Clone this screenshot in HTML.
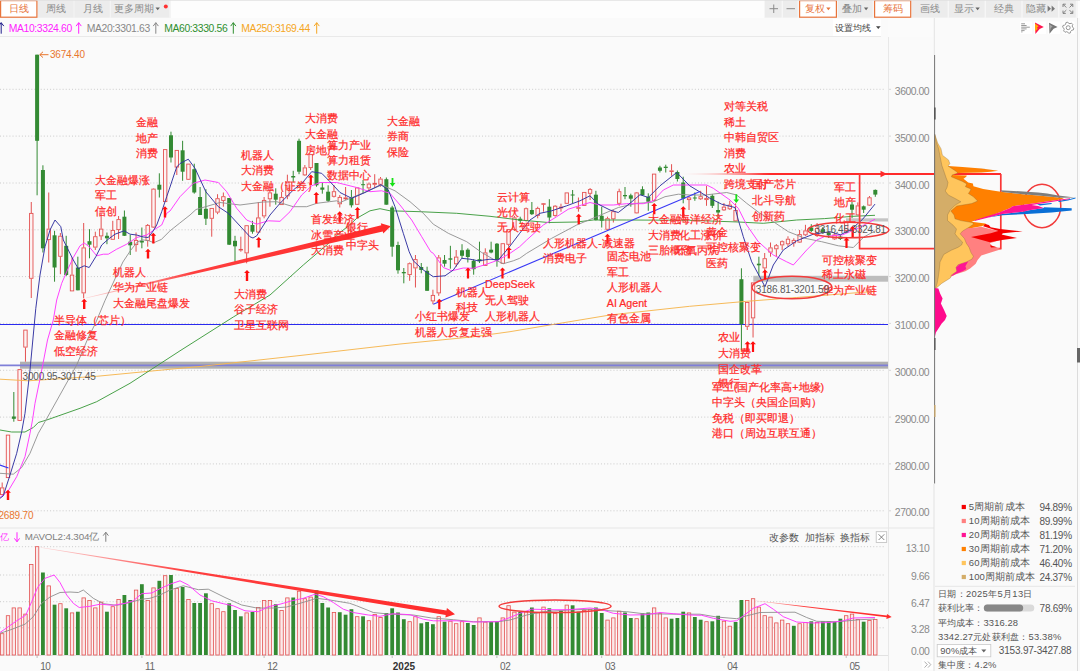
<!DOCTYPE html>
<html><head><meta charset="utf-8"><title>K线图</title>
<style>
html,body{margin:0;padding:0;background:#fcfcfc;}
body{width:1080px;height:671px;overflow:hidden;font-family:"Liberation Sans",sans-serif;}
svg{display:block;font-family:"Liberation Sans",sans-serif;}
</style></head><body>
<svg width="1080" height="671" viewBox="0 0 1080 671">
<rect x="0" y="0" width="1080" height="671" fill="#fbfbfb"/>
<rect x="0" y="18" width="888" height="653" fill="#fafafa"/>
<rect x="888" y="37" width="46.5" height="634" fill="#fafafa"/>
<rect x="934.5" y="18" width="145.5" height="653" fill="#fafafa"/>
<rect x="0" y="0" width="1080" height="18" fill="#fdfdfd"/>
<line x1="0" y1="510.8" x2="885" y2="510.8" stroke="#cbcbcb" stroke-width="1" stroke-dasharray="1 2.13"/>
<line x1="888" y1="510.8" x2="891" y2="510.8" stroke="#d8d8d8" stroke-width="1"/>
<line x1="0" y1="463.9" x2="885" y2="463.9" stroke="#cbcbcb" stroke-width="1" stroke-dasharray="1 2.13"/>
<line x1="888" y1="463.9" x2="891" y2="463.9" stroke="#d8d8d8" stroke-width="1"/>
<line x1="0" y1="417.1" x2="885" y2="417.1" stroke="#cbcbcb" stroke-width="1" stroke-dasharray="1 2.13"/>
<line x1="888" y1="417.1" x2="891" y2="417.1" stroke="#d8d8d8" stroke-width="1"/>
<line x1="0" y1="370.3" x2="885" y2="370.3" stroke="#cbcbcb" stroke-width="1" stroke-dasharray="1 2.13"/>
<line x1="888" y1="370.3" x2="891" y2="370.3" stroke="#d8d8d8" stroke-width="1"/>
<line x1="0" y1="323.4" x2="885" y2="323.4" stroke="#cbcbcb" stroke-width="1" stroke-dasharray="1 2.13"/>
<line x1="888" y1="323.4" x2="891" y2="323.4" stroke="#d8d8d8" stroke-width="1"/>
<line x1="0" y1="276.6" x2="885" y2="276.6" stroke="#cbcbcb" stroke-width="1" stroke-dasharray="1 2.13"/>
<line x1="888" y1="276.6" x2="891" y2="276.6" stroke="#d8d8d8" stroke-width="1"/>
<line x1="0" y1="229.8" x2="885" y2="229.8" stroke="#cbcbcb" stroke-width="1" stroke-dasharray="1 2.13"/>
<line x1="888" y1="229.8" x2="891" y2="229.8" stroke="#d8d8d8" stroke-width="1"/>
<line x1="0" y1="183.0" x2="885" y2="183.0" stroke="#cbcbcb" stroke-width="1" stroke-dasharray="1 2.13"/>
<line x1="888" y1="183.0" x2="891" y2="183.0" stroke="#d8d8d8" stroke-width="1"/>
<line x1="0" y1="136.1" x2="885" y2="136.1" stroke="#cbcbcb" stroke-width="1" stroke-dasharray="1 2.13"/>
<line x1="888" y1="136.1" x2="891" y2="136.1" stroke="#d8d8d8" stroke-width="1"/>
<line x1="0" y1="89.3" x2="885" y2="89.3" stroke="#cbcbcb" stroke-width="1" stroke-dasharray="1 2.13"/>
<line x1="888" y1="89.3" x2="891" y2="89.3" stroke="#d8d8d8" stroke-width="1"/>
<line x1="0" y1="546.7" x2="885" y2="546.7" stroke="#cbcbcb" stroke-width="1" stroke-dasharray="1 2.13"/>
<line x1="0" y1="575" x2="885" y2="575" stroke="#cbcbcb" stroke-width="1" stroke-dasharray="1 2.13"/>
<line x1="0" y1="601.7" x2="885" y2="601.7" stroke="#cbcbcb" stroke-width="1" stroke-dasharray="1 2.13"/>
<line x1="0" y1="627.8" x2="885" y2="627.8" stroke="#cbcbcb" stroke-width="1" stroke-dasharray="1 2.13"/>
<line x1="0" y1="36.5" x2="881" y2="36.5" stroke="#e9e9e9"/>
<line x1="888.5" y1="37" x2="888.5" y2="671" stroke="#e8e8e8"/>
<line x1="0" y1="528" x2="934" y2="528" stroke="#e6e6e6"/>
<line x1="0" y1="655.5" x2="888" y2="655.5" stroke="#e2e2e2"/>
<line x1="934" y1="484" x2="934" y2="671" stroke="#e2e2e2"/>
<line x1="1077.5" y1="18" x2="1077.5" y2="671" stroke="#dcdcdc"/>
<rect x="1077" y="348" width="3" height="14.5" fill="#666"/>
<line x1="935" y1="586.3" x2="1075" y2="586.3" stroke="#e6e6e6"/>
<rect x="20" y="361.7" width="868" height="7" fill="#b0b0b0"/>
<line x1="0" y1="365.4" x2="888" y2="365.4" stroke="#7f7fd8" stroke-width="1.6"/>
<rect x="753.3" y="275.8" width="134.7" height="5.9" fill="#bdbdbd"/>
<rect x="846" y="218.3" width="42" height="3.2" fill="#c4c4c4"/>
<line x1="0" y1="324.5" x2="888" y2="324.5" stroke="#2a2af0" stroke-width="1.05"/>
<line x1="2.18" y1="482.5" x2="2.18" y2="487.5" stroke="#e35151" stroke-width="1"/>
<rect x="0.48" y="487.9" width="3.4" height="6.7" fill="#fdf1f1" fill-opacity="0.7" stroke="#e35151" stroke-width="0.9"/>
<rect x="6.30" y="435.1" width="3.4" height="42.5" fill="#fdf1f1" fill-opacity="0.7" stroke="#e35151" stroke-width="0.9"/>
<line x1="13.82" y1="392.0" x2="13.82" y2="421.7" stroke="#338a33" stroke-width="1"/>
<rect x="11.82" y="416.5" width="4" height="2.3" fill="#338a33"/>
<line x1="19.64" y1="420.8" x2="19.64" y2="421.0" stroke="#e35151" stroke-width="1"/>
<rect x="17.94" y="369.6" width="3.4" height="50.8" fill="#fdf1f1" fill-opacity="0.7" stroke="#e35151" stroke-width="0.9"/>
<line x1="25.46" y1="347.5" x2="25.46" y2="361.7" stroke="#e35151" stroke-width="1"/>
<rect x="23.76" y="330.1" width="3.4" height="17.0" fill="#fdf1f1" fill-opacity="0.7" stroke="#e35151" stroke-width="0.9"/>
<line x1="31.28" y1="202.0" x2="31.28" y2="213.0" stroke="#e35151" stroke-width="1"/>
<line x1="31.28" y1="278.7" x2="31.28" y2="298.0" stroke="#e35151" stroke-width="1"/>
<rect x="29.58" y="213.4" width="3.4" height="64.9" fill="#fdf1f1" fill-opacity="0.7" stroke="#e35151" stroke-width="0.9"/>
<line x1="37.10" y1="54.7" x2="37.10" y2="195.3" stroke="#338a33" stroke-width="1"/>
<rect x="35.10" y="54.7" width="4" height="86.1" fill="#338a33"/>
<line x1="42.92" y1="165.3" x2="42.92" y2="252.5" stroke="#338a33" stroke-width="1"/>
<rect x="40.92" y="170.0" width="4" height="78.3" fill="#338a33"/>
<line x1="48.74" y1="192.5" x2="48.74" y2="228.7" stroke="#e35151" stroke-width="1"/>
<line x1="48.74" y1="240.0" x2="48.74" y2="262.5" stroke="#e35151" stroke-width="1"/>
<rect x="47.04" y="229.1" width="3.4" height="10.5" fill="#fdf1f1" fill-opacity="0.7" stroke="#e35151" stroke-width="0.9"/>
<line x1="54.56" y1="230.8" x2="54.56" y2="281.7" stroke="#338a33" stroke-width="1"/>
<rect x="52.56" y="235.3" width="4" height="32.2" fill="#338a33"/>
<line x1="60.38" y1="233.0" x2="60.38" y2="235.8" stroke="#e35151" stroke-width="1"/>
<line x1="60.38" y1="256.7" x2="60.38" y2="274.2" stroke="#e35151" stroke-width="1"/>
<rect x="58.68" y="236.2" width="3.4" height="20.1" fill="#fdf1f1" fill-opacity="0.7" stroke="#e35151" stroke-width="0.9"/>
<line x1="66.20" y1="235.8" x2="66.20" y2="276.0" stroke="#338a33" stroke-width="1"/>
<rect x="64.20" y="245.8" width="4" height="29.2" fill="#338a33"/>
<line x1="72.02" y1="257.5" x2="72.02" y2="274.7" stroke="#e35151" stroke-width="1"/>
<rect x="70.32" y="275.1" width="3.4" height="15.8" fill="#fdf1f1" fill-opacity="0.7" stroke="#e35151" stroke-width="0.9"/>
<line x1="77.85" y1="256.7" x2="77.85" y2="290.3" stroke="#338a33" stroke-width="1"/>
<rect x="75.85" y="267.5" width="4" height="22.8" fill="#338a33"/>
<line x1="83.67" y1="223.0" x2="83.67" y2="247.5" stroke="#e35151" stroke-width="1"/>
<line x1="83.67" y1="293.3" x2="83.67" y2="298.3" stroke="#e35151" stroke-width="1"/>
<rect x="81.97" y="247.9" width="3.4" height="45.0" fill="#fdf1f1" fill-opacity="0.7" stroke="#e35151" stroke-width="0.9"/>
<line x1="89.49" y1="229.2" x2="89.49" y2="258.3" stroke="#338a33" stroke-width="1"/>
<rect x="87.49" y="241.2" width="4" height="3.5" fill="#338a33"/>
<line x1="95.31" y1="231.7" x2="95.31" y2="236.3" stroke="#e35151" stroke-width="1"/>
<line x1="95.31" y1="247.5" x2="95.31" y2="250.0" stroke="#e35151" stroke-width="1"/>
<rect x="93.61" y="236.7" width="3.4" height="10.4" fill="#fdf1f1" fill-opacity="0.7" stroke="#e35151" stroke-width="0.9"/>
<line x1="101.13" y1="213.3" x2="101.13" y2="228.7" stroke="#e35151" stroke-width="1"/>
<line x1="101.13" y1="236.3" x2="101.13" y2="240.0" stroke="#e35151" stroke-width="1"/>
<rect x="99.43" y="229.1" width="3.4" height="6.8" fill="#fdf1f1" fill-opacity="0.7" stroke="#e35151" stroke-width="0.9"/>
<line x1="106.95" y1="232.5" x2="106.95" y2="244.2" stroke="#338a33" stroke-width="1"/>
<rect x="104.95" y="235.8" width="4" height="2.5" fill="#338a33"/>
<line x1="112.77" y1="220.8" x2="112.77" y2="230.0" stroke="#e35151" stroke-width="1"/>
<rect x="111.07" y="230.4" width="3.4" height="8.9" fill="#fdf1f1" fill-opacity="0.7" stroke="#e35151" stroke-width="0.9"/>
<line x1="118.59" y1="216.0" x2="118.59" y2="219.2" stroke="#e35151" stroke-width="1"/>
<line x1="118.59" y1="230.0" x2="118.59" y2="239.0" stroke="#e35151" stroke-width="1"/>
<rect x="116.89" y="219.6" width="3.4" height="10.0" fill="#fdf1f1" fill-opacity="0.7" stroke="#e35151" stroke-width="0.9"/>
<line x1="124.41" y1="210.5" x2="124.41" y2="236.0" stroke="#338a33" stroke-width="1"/>
<rect x="122.41" y="216.7" width="4" height="19.1" fill="#338a33"/>
<line x1="130.23" y1="235.0" x2="130.23" y2="255.0" stroke="#338a33" stroke-width="1"/>
<rect x="128.23" y="241.7" width="4" height="3.6" fill="#338a33"/>
<line x1="136.05" y1="232.5" x2="136.05" y2="240.0" stroke="#e35151" stroke-width="1"/>
<line x1="136.05" y1="245.0" x2="136.05" y2="251.7" stroke="#e35151" stroke-width="1"/>
<rect x="134.35" y="240.4" width="3.4" height="4.2" fill="#fdf1f1" fill-opacity="0.7" stroke="#e35151" stroke-width="0.9"/>
<line x1="141.87" y1="227.5" x2="141.87" y2="248.3" stroke="#338a33" stroke-width="1"/>
<rect x="139.87" y="240.8" width="4" height="1.7" fill="#338a33"/>
<line x1="147.70" y1="224.0" x2="147.70" y2="225.0" stroke="#e35151" stroke-width="1"/>
<line x1="147.70" y1="240.8" x2="147.70" y2="246.7" stroke="#e35151" stroke-width="1"/>
<rect x="146.00" y="225.4" width="3.4" height="15.0" fill="#fdf1f1" fill-opacity="0.7" stroke="#e35151" stroke-width="0.9"/>
<line x1="153.52" y1="188.3" x2="153.52" y2="188.7" stroke="#e35151" stroke-width="1"/>
<line x1="153.52" y1="227.5" x2="153.52" y2="228.0" stroke="#e35151" stroke-width="1"/>
<rect x="151.82" y="189.1" width="3.4" height="38.0" fill="#fdf1f1" fill-opacity="0.7" stroke="#e35151" stroke-width="0.9"/>
<line x1="159.34" y1="173.3" x2="159.34" y2="197.5" stroke="#338a33" stroke-width="1"/>
<rect x="157.34" y="184.7" width="4" height="5.0" fill="#338a33"/>
<rect x="163.46" y="149.6" width="3.4" height="52.0" fill="#fdf1f1" fill-opacity="0.7" stroke="#e35151" stroke-width="0.9"/>
<line x1="170.98" y1="131.7" x2="170.98" y2="162.5" stroke="#338a33" stroke-width="1"/>
<rect x="168.98" y="135.3" width="4" height="22.2" fill="#338a33"/>
<line x1="176.80" y1="167.5" x2="176.80" y2="175.0" stroke="#e35151" stroke-width="1"/>
<rect x="175.10" y="150.4" width="3.4" height="16.7" fill="#fdf1f1" fill-opacity="0.7" stroke="#e35151" stroke-width="0.9"/>
<line x1="182.62" y1="140.8" x2="182.62" y2="180.8" stroke="#338a33" stroke-width="1"/>
<rect x="180.62" y="150.3" width="4" height="21.4" fill="#338a33"/>
<line x1="188.44" y1="179.7" x2="188.44" y2="180.0" stroke="#e35151" stroke-width="1"/>
<rect x="186.74" y="164.1" width="3.4" height="15.2" fill="#fdf1f1" fill-opacity="0.7" stroke="#e35151" stroke-width="0.9"/>
<line x1="194.26" y1="163.7" x2="194.26" y2="193.7" stroke="#338a33" stroke-width="1"/>
<rect x="192.26" y="169.2" width="4" height="23.3" fill="#338a33"/>
<line x1="200.08" y1="187.0" x2="200.08" y2="215.0" stroke="#338a33" stroke-width="1"/>
<rect x="198.08" y="197.0" width="4" height="18.0" fill="#338a33"/>
<line x1="205.90" y1="189.2" x2="205.90" y2="225.0" stroke="#338a33" stroke-width="1"/>
<rect x="203.90" y="208.8" width="4" height="9.9" fill="#338a33"/>
<line x1="211.72" y1="218.7" x2="211.72" y2="236.7" stroke="#e35151" stroke-width="1"/>
<rect x="210.02" y="208.4" width="3.4" height="9.9" fill="#fdf1f1" fill-opacity="0.7" stroke="#e35151" stroke-width="0.9"/>
<line x1="217.54" y1="194.2" x2="217.54" y2="198.3" stroke="#e35151" stroke-width="1"/>
<line x1="217.54" y1="212.5" x2="217.54" y2="214.2" stroke="#e35151" stroke-width="1"/>
<rect x="215.84" y="198.7" width="3.4" height="13.4" fill="#fdf1f1" fill-opacity="0.7" stroke="#e35151" stroke-width="0.9"/>
<line x1="223.37" y1="192.5" x2="223.37" y2="196.3" stroke="#e35151" stroke-width="1"/>
<line x1="223.37" y1="200.8" x2="223.37" y2="206.7" stroke="#e35151" stroke-width="1"/>
<rect x="221.67" y="196.7" width="3.4" height="3.7" fill="#fdf1f1" fill-opacity="0.7" stroke="#e35151" stroke-width="0.9"/>
<line x1="229.19" y1="198.0" x2="229.19" y2="245.0" stroke="#338a33" stroke-width="1"/>
<rect x="227.19" y="198.0" width="4" height="46.7" fill="#338a33"/>
<line x1="235.01" y1="235.8" x2="235.01" y2="261.7" stroke="#338a33" stroke-width="1"/>
<rect x="233.01" y="240.8" width="4" height="5.5" fill="#338a33"/>
<line x1="240.83" y1="236.7" x2="240.83" y2="249.0" stroke="#e35151" stroke-width="1"/>
<line x1="240.83" y1="250.3" x2="240.83" y2="251.7" stroke="#e35151" stroke-width="1"/>
<rect x="239.13" y="249.4" width="3.4" height="0.6" fill="#fdf1f1" fill-opacity="0.7" stroke="#e35151" stroke-width="0.9"/>
<line x1="246.65" y1="253.3" x2="246.65" y2="263.3" stroke="#e35151" stroke-width="1"/>
<rect x="244.95" y="225.7" width="3.4" height="27.2" fill="#fdf1f1" fill-opacity="0.7" stroke="#e35151" stroke-width="0.9"/>
<line x1="252.47" y1="220.8" x2="252.47" y2="233.7" stroke="#338a33" stroke-width="1"/>
<rect x="250.47" y="225.0" width="4" height="6.7" fill="#338a33"/>
<line x1="258.29" y1="202.0" x2="258.29" y2="217.5" stroke="#e35151" stroke-width="1"/>
<line x1="258.29" y1="232.5" x2="258.29" y2="233.0" stroke="#e35151" stroke-width="1"/>
<rect x="256.59" y="217.9" width="3.4" height="14.2" fill="#fdf1f1" fill-opacity="0.7" stroke="#e35151" stroke-width="0.9"/>
<line x1="264.11" y1="197.0" x2="264.11" y2="200.0" stroke="#e35151" stroke-width="1"/>
<line x1="264.11" y1="216.3" x2="264.11" y2="218.3" stroke="#e35151" stroke-width="1"/>
<rect x="262.41" y="200.4" width="3.4" height="15.5" fill="#fdf1f1" fill-opacity="0.7" stroke="#e35151" stroke-width="0.9"/>
<line x1="269.93" y1="187.5" x2="269.93" y2="192.5" stroke="#e35151" stroke-width="1"/>
<line x1="269.93" y1="199.2" x2="269.93" y2="206.7" stroke="#e35151" stroke-width="1"/>
<rect x="268.23" y="192.9" width="3.4" height="5.9" fill="#fdf1f1" fill-opacity="0.7" stroke="#e35151" stroke-width="0.9"/>
<line x1="275.75" y1="188.3" x2="275.75" y2="204.7" stroke="#338a33" stroke-width="1"/>
<rect x="273.75" y="193.7" width="4" height="6.0" fill="#338a33"/>
<line x1="281.57" y1="191.7" x2="281.57" y2="197.0" stroke="#e35151" stroke-width="1"/>
<rect x="279.87" y="197.4" width="3.4" height="7.2" fill="#fdf1f1" fill-opacity="0.7" stroke="#e35151" stroke-width="0.9"/>
<line x1="287.39" y1="174.7" x2="287.39" y2="181.7" stroke="#e35151" stroke-width="1"/>
<line x1="287.39" y1="196.3" x2="287.39" y2="199.2" stroke="#e35151" stroke-width="1"/>
<rect x="285.69" y="182.1" width="3.4" height="13.8" fill="#fdf1f1" fill-opacity="0.7" stroke="#e35151" stroke-width="0.9"/>
<line x1="293.22" y1="170.8" x2="293.22" y2="182.5" stroke="#338a33" stroke-width="1"/>
<rect x="291.22" y="176.0" width="4" height="1.5" fill="#338a33"/>
<line x1="299.04" y1="138.7" x2="299.04" y2="174.2" stroke="#338a33" stroke-width="1"/>
<rect x="297.04" y="140.8" width="4" height="30.9" fill="#338a33"/>
<line x1="304.86" y1="165.0" x2="304.86" y2="167.5" stroke="#e35151" stroke-width="1"/>
<line x1="304.86" y1="175.3" x2="304.86" y2="176.0" stroke="#e35151" stroke-width="1"/>
<rect x="303.16" y="167.9" width="3.4" height="7.0" fill="#fdf1f1" fill-opacity="0.7" stroke="#e35151" stroke-width="0.9"/>
<line x1="310.68" y1="168.0" x2="310.68" y2="170.0" stroke="#e35151" stroke-width="1"/>
<rect x="308.98" y="154.6" width="3.4" height="13.0" fill="#fdf1f1" fill-opacity="0.7" stroke="#e35151" stroke-width="0.9"/>
<line x1="316.50" y1="163.0" x2="316.50" y2="186.7" stroke="#338a33" stroke-width="1"/>
<rect x="314.50" y="163.0" width="4" height="22.3" fill="#338a33"/>
<line x1="322.32" y1="182.5" x2="322.32" y2="193.7" stroke="#338a33" stroke-width="1"/>
<rect x="320.32" y="187.5" width="4" height="2.2" fill="#338a33"/>
<line x1="328.14" y1="185.3" x2="328.14" y2="202.0" stroke="#338a33" stroke-width="1"/>
<rect x="326.14" y="191.7" width="4" height="9.1" fill="#338a33"/>
<line x1="333.96" y1="185.0" x2="333.96" y2="191.3" stroke="#e35151" stroke-width="1"/>
<line x1="333.96" y1="196.7" x2="333.96" y2="197.5" stroke="#e35151" stroke-width="1"/>
<rect x="332.26" y="191.7" width="3.4" height="4.6" fill="#fdf1f1" fill-opacity="0.7" stroke="#e35151" stroke-width="0.9"/>
<line x1="339.78" y1="195.0" x2="339.78" y2="197.0" stroke="#e35151" stroke-width="1"/>
<line x1="339.78" y1="204.2" x2="339.78" y2="207.5" stroke="#e35151" stroke-width="1"/>
<rect x="338.08" y="197.4" width="3.4" height="6.4" fill="#fdf1f1" fill-opacity="0.7" stroke="#e35151" stroke-width="0.9"/>
<line x1="345.60" y1="187.0" x2="345.60" y2="197.5" stroke="#e35151" stroke-width="1"/>
<line x1="345.60" y1="199.2" x2="345.60" y2="200.0" stroke="#e35151" stroke-width="1"/>
<rect x="343.90" y="197.9" width="3.4" height="0.9" fill="#fdf1f1" fill-opacity="0.7" stroke="#e35151" stroke-width="0.9"/>
<line x1="351.42" y1="190.0" x2="351.42" y2="207.5" stroke="#338a33" stroke-width="1"/>
<rect x="349.42" y="197.5" width="4" height="7.8" fill="#338a33"/>
<line x1="357.24" y1="204.7" x2="357.24" y2="205.0" stroke="#e35151" stroke-width="1"/>
<rect x="355.54" y="187.9" width="3.4" height="16.4" fill="#fdf1f1" fill-opacity="0.7" stroke="#e35151" stroke-width="0.9"/>
<line x1="363.06" y1="180.0" x2="363.06" y2="193.3" stroke="#338a33" stroke-width="1"/>
<rect x="361.06" y="184.2" width="4" height="1.0" fill="#338a33"/>
<line x1="368.89" y1="182.5" x2="368.89" y2="183.7" stroke="#e35151" stroke-width="1"/>
<line x1="368.89" y1="188.3" x2="368.89" y2="190.0" stroke="#e35151" stroke-width="1"/>
<rect x="367.19" y="184.1" width="3.4" height="3.8" fill="#fdf1f1" fill-opacity="0.7" stroke="#e35151" stroke-width="0.9"/>
<line x1="374.71" y1="174.2" x2="374.71" y2="183.0" stroke="#e35151" stroke-width="1"/>
<line x1="374.71" y1="184.7" x2="374.71" y2="187.5" stroke="#e35151" stroke-width="1"/>
<rect x="373.01" y="183.4" width="3.4" height="0.9" fill="#fdf1f1" fill-opacity="0.7" stroke="#e35151" stroke-width="0.9"/>
<line x1="380.53" y1="177.0" x2="380.53" y2="178.7" stroke="#e35151" stroke-width="1"/>
<line x1="380.53" y1="184.7" x2="380.53" y2="186.7" stroke="#e35151" stroke-width="1"/>
<rect x="378.83" y="179.1" width="3.4" height="5.2" fill="#fdf1f1" fill-opacity="0.7" stroke="#e35151" stroke-width="0.9"/>
<line x1="386.35" y1="177.5" x2="386.35" y2="204.7" stroke="#338a33" stroke-width="1"/>
<rect x="384.35" y="179.2" width="4" height="25.5" fill="#338a33"/>
<line x1="392.17" y1="205.8" x2="392.17" y2="256.7" stroke="#338a33" stroke-width="1"/>
<rect x="390.17" y="207.5" width="4" height="39.2" fill="#338a33"/>
<line x1="397.99" y1="241.7" x2="397.99" y2="273.7" stroke="#338a33" stroke-width="1"/>
<rect x="395.99" y="245.0" width="4" height="25.3" fill="#338a33"/>
<line x1="403.81" y1="268.0" x2="403.81" y2="283.3" stroke="#338a33" stroke-width="1"/>
<rect x="401.81" y="272.0" width="4" height="1.3" fill="#338a33"/>
<line x1="409.63" y1="262.5" x2="409.63" y2="263.3" stroke="#e35151" stroke-width="1"/>
<line x1="409.63" y1="275.0" x2="409.63" y2="280.8" stroke="#e35151" stroke-width="1"/>
<rect x="407.93" y="263.7" width="3.4" height="10.9" fill="#fdf1f1" fill-opacity="0.7" stroke="#e35151" stroke-width="0.9"/>
<line x1="415.45" y1="255.0" x2="415.45" y2="259.2" stroke="#e35151" stroke-width="1"/>
<line x1="415.45" y1="268.3" x2="415.45" y2="287.5" stroke="#e35151" stroke-width="1"/>
<rect x="413.75" y="259.6" width="3.4" height="8.3" fill="#fdf1f1" fill-opacity="0.7" stroke="#e35151" stroke-width="0.9"/>
<line x1="421.27" y1="263.0" x2="421.27" y2="273.3" stroke="#338a33" stroke-width="1"/>
<rect x="419.27" y="267.0" width="4" height="3.0" fill="#338a33"/>
<line x1="427.09" y1="266.7" x2="427.09" y2="290.8" stroke="#338a33" stroke-width="1"/>
<rect x="425.09" y="270.8" width="4" height="20.0" fill="#338a33"/>
<line x1="432.91" y1="289.7" x2="432.91" y2="295.0" stroke="#e35151" stroke-width="1"/>
<line x1="432.91" y1="301.3" x2="432.91" y2="304.2" stroke="#e35151" stroke-width="1"/>
<rect x="431.21" y="295.4" width="3.4" height="5.5" fill="#fdf1f1" fill-opacity="0.7" stroke="#e35151" stroke-width="0.9"/>
<line x1="438.74" y1="255.0" x2="438.74" y2="257.5" stroke="#e35151" stroke-width="1"/>
<line x1="438.74" y1="293.3" x2="438.74" y2="295.8" stroke="#e35151" stroke-width="1"/>
<rect x="437.04" y="257.9" width="3.4" height="35.0" fill="#fdf1f1" fill-opacity="0.7" stroke="#e35151" stroke-width="0.9"/>
<line x1="444.56" y1="255.0" x2="444.56" y2="266.7" stroke="#338a33" stroke-width="1"/>
<rect x="442.56" y="260.0" width="4" height="3.7" fill="#338a33"/>
<line x1="450.38" y1="245.8" x2="450.38" y2="268.7" stroke="#338a33" stroke-width="1"/>
<rect x="448.38" y="258.3" width="4" height="1.4" fill="#338a33"/>
<line x1="456.20" y1="250.0" x2="456.20" y2="256.7" stroke="#e35151" stroke-width="1"/>
<line x1="456.20" y1="264.2" x2="456.20" y2="266.7" stroke="#e35151" stroke-width="1"/>
<rect x="454.50" y="257.1" width="3.4" height="6.7" fill="#fdf1f1" fill-opacity="0.7" stroke="#e35151" stroke-width="0.9"/>
<line x1="462.02" y1="244.2" x2="462.02" y2="258.3" stroke="#338a33" stroke-width="1"/>
<rect x="460.02" y="250.3" width="4" height="5.5" fill="#338a33"/>
<line x1="467.84" y1="248.3" x2="467.84" y2="262.5" stroke="#338a33" stroke-width="1"/>
<rect x="465.84" y="249.7" width="4" height="7.3" fill="#338a33"/>
<line x1="473.66" y1="259.2" x2="473.66" y2="274.7" stroke="#338a33" stroke-width="1"/>
<rect x="471.66" y="260.8" width="4" height="8.4" fill="#338a33"/>
<line x1="479.48" y1="241.7" x2="479.48" y2="263.0" stroke="#338a33" stroke-width="1"/>
<rect x="477.48" y="259.2" width="4" height="2.1" fill="#338a33"/>
<line x1="485.30" y1="248.3" x2="485.30" y2="252.5" stroke="#e35151" stroke-width="1"/>
<line x1="485.30" y1="265.8" x2="485.30" y2="266.0" stroke="#e35151" stroke-width="1"/>
<rect x="483.60" y="252.9" width="3.4" height="12.5" fill="#fdf1f1" fill-opacity="0.7" stroke="#e35151" stroke-width="0.9"/>
<line x1="491.12" y1="241.7" x2="491.12" y2="253.3" stroke="#338a33" stroke-width="1"/>
<rect x="489.12" y="249.7" width="4" height="2.8" fill="#338a33"/>
<line x1="496.94" y1="243.0" x2="496.94" y2="266.7" stroke="#338a33" stroke-width="1"/>
<rect x="494.94" y="243.7" width="4" height="16.3" fill="#338a33"/>
<line x1="502.76" y1="263.7" x2="502.76" y2="264.0" stroke="#e35151" stroke-width="1"/>
<rect x="501.06" y="243.7" width="3.4" height="19.6" fill="#fdf1f1" fill-opacity="0.7" stroke="#e35151" stroke-width="0.9"/>
<line x1="508.58" y1="229.0" x2="508.58" y2="229.2" stroke="#e35151" stroke-width="1"/>
<line x1="508.58" y1="244.7" x2="508.58" y2="246.7" stroke="#e35151" stroke-width="1"/>
<rect x="506.88" y="229.6" width="3.4" height="14.7" fill="#fdf1f1" fill-opacity="0.7" stroke="#e35151" stroke-width="0.9"/>
<line x1="514.41" y1="216.0" x2="514.41" y2="217.5" stroke="#e35151" stroke-width="1"/>
<line x1="514.41" y1="230.0" x2="514.41" y2="231.0" stroke="#e35151" stroke-width="1"/>
<rect x="512.71" y="217.9" width="3.4" height="11.7" fill="#fdf1f1" fill-opacity="0.7" stroke="#e35151" stroke-width="0.9"/>
<line x1="520.23" y1="216.7" x2="520.23" y2="223.3" stroke="#338a33" stroke-width="1"/>
<rect x="518.23" y="218.7" width="4" height="2.1" fill="#338a33"/>
<line x1="526.05" y1="207.5" x2="526.05" y2="208.3" stroke="#e35151" stroke-width="1"/>
<line x1="526.05" y1="220.8" x2="526.05" y2="221.5" stroke="#e35151" stroke-width="1"/>
<rect x="524.35" y="208.7" width="3.4" height="11.7" fill="#fdf1f1" fill-opacity="0.7" stroke="#e35151" stroke-width="0.9"/>
<line x1="531.87" y1="202.0" x2="531.87" y2="215.0" stroke="#338a33" stroke-width="1"/>
<rect x="529.87" y="210.0" width="4" height="4.2" fill="#338a33"/>
<line x1="537.69" y1="206.7" x2="537.69" y2="208.0" stroke="#e35151" stroke-width="1"/>
<line x1="537.69" y1="215.8" x2="537.69" y2="218.3" stroke="#e35151" stroke-width="1"/>
<rect x="535.99" y="208.4" width="3.4" height="7.0" fill="#fdf1f1" fill-opacity="0.7" stroke="#e35151" stroke-width="0.9"/>
<line x1="543.51" y1="203.0" x2="543.51" y2="203.3" stroke="#e35151" stroke-width="1"/>
<line x1="543.51" y1="204.3" x2="543.51" y2="211.7" stroke="#e35151" stroke-width="1"/>
<rect x="541.81" y="203.7" width="3.4" height="0.6" fill="#fdf1f1" fill-opacity="0.7" stroke="#e35151" stroke-width="0.9"/>
<line x1="549.33" y1="199.2" x2="549.33" y2="223.3" stroke="#338a33" stroke-width="1"/>
<rect x="547.33" y="206.7" width="4" height="10.8" fill="#338a33"/>
<line x1="555.15" y1="205.0" x2="555.15" y2="205.8" stroke="#e35151" stroke-width="1"/>
<line x1="555.15" y1="215.8" x2="555.15" y2="216.7" stroke="#e35151" stroke-width="1"/>
<rect x="553.45" y="206.2" width="3.4" height="9.2" fill="#fdf1f1" fill-opacity="0.7" stroke="#e35151" stroke-width="0.9"/>
<line x1="560.97" y1="203.7" x2="560.97" y2="206.7" stroke="#e35151" stroke-width="1"/>
<line x1="560.97" y1="208.3" x2="560.97" y2="211.7" stroke="#e35151" stroke-width="1"/>
<rect x="559.27" y="207.1" width="3.4" height="0.8" fill="#fdf1f1" fill-opacity="0.7" stroke="#e35151" stroke-width="0.9"/>
<line x1="566.79" y1="203.7" x2="566.79" y2="204.0" stroke="#e35151" stroke-width="1"/>
<rect x="565.09" y="192.9" width="3.4" height="10.4" fill="#fdf1f1" fill-opacity="0.7" stroke="#e35151" stroke-width="0.9"/>
<line x1="572.61" y1="190.0" x2="572.61" y2="203.0" stroke="#338a33" stroke-width="1"/>
<rect x="570.61" y="194.5" width="4" height="1.0" fill="#338a33"/>
<line x1="578.43" y1="197.5" x2="578.43" y2="207.3" stroke="#e35151" stroke-width="1"/>
<line x1="578.43" y1="208.5" x2="578.43" y2="211.7" stroke="#e35151" stroke-width="1"/>
<rect x="576.73" y="207.7" width="3.4" height="0.6" fill="#fdf1f1" fill-opacity="0.7" stroke="#e35151" stroke-width="0.9"/>
<line x1="584.26" y1="205.8" x2="584.26" y2="206.0" stroke="#e35151" stroke-width="1"/>
<rect x="582.56" y="192.4" width="3.4" height="13.0" fill="#fdf1f1" fill-opacity="0.7" stroke="#e35151" stroke-width="0.9"/>
<line x1="590.08" y1="188.0" x2="590.08" y2="189.2" stroke="#e35151" stroke-width="1"/>
<line x1="590.08" y1="193.7" x2="590.08" y2="200.0" stroke="#e35151" stroke-width="1"/>
<rect x="588.38" y="189.6" width="3.4" height="3.7" fill="#fdf1f1" fill-opacity="0.7" stroke="#e35151" stroke-width="0.9"/>
<line x1="595.90" y1="190.8" x2="595.90" y2="220.5" stroke="#338a33" stroke-width="1"/>
<rect x="593.90" y="194.7" width="4" height="25.3" fill="#338a33"/>
<line x1="601.72" y1="206.7" x2="601.72" y2="227.5" stroke="#338a33" stroke-width="1"/>
<rect x="599.72" y="215.8" width="4" height="5.0" fill="#338a33"/>
<line x1="607.54" y1="216.7" x2="607.54" y2="218.3" stroke="#e35151" stroke-width="1"/>
<rect x="605.84" y="218.7" width="3.4" height="10.6" fill="#fdf1f1" fill-opacity="0.7" stroke="#e35151" stroke-width="0.9"/>
<line x1="613.36" y1="210.3" x2="613.36" y2="211.3" stroke="#e35151" stroke-width="1"/>
<line x1="613.36" y1="219.2" x2="613.36" y2="222.5" stroke="#e35151" stroke-width="1"/>
<rect x="611.66" y="211.7" width="3.4" height="7.1" fill="#fdf1f1" fill-opacity="0.7" stroke="#e35151" stroke-width="0.9"/>
<line x1="619.18" y1="188.7" x2="619.18" y2="191.3" stroke="#e35151" stroke-width="1"/>
<line x1="619.18" y1="203.7" x2="619.18" y2="205.8" stroke="#e35151" stroke-width="1"/>
<rect x="617.48" y="191.7" width="3.4" height="11.6" fill="#fdf1f1" fill-opacity="0.7" stroke="#e35151" stroke-width="0.9"/>
<line x1="625.00" y1="187.0" x2="625.00" y2="199.2" stroke="#338a33" stroke-width="1"/>
<rect x="623.00" y="195.0" width="4" height="1.3" fill="#338a33"/>
<line x1="630.82" y1="193.7" x2="630.82" y2="206.7" stroke="#338a33" stroke-width="1"/>
<rect x="628.82" y="195.3" width="4" height="3.4" fill="#338a33"/>
<line x1="636.64" y1="192.0" x2="636.64" y2="192.5" stroke="#e35151" stroke-width="1"/>
<line x1="636.64" y1="213.3" x2="636.64" y2="213.5" stroke="#e35151" stroke-width="1"/>
<rect x="634.94" y="192.9" width="3.4" height="20.0" fill="#fdf1f1" fill-opacity="0.7" stroke="#e35151" stroke-width="0.9"/>
<line x1="642.46" y1="186.3" x2="642.46" y2="196.0" stroke="#338a33" stroke-width="1"/>
<rect x="640.46" y="189.2" width="4" height="6.1" fill="#338a33"/>
<line x1="648.28" y1="193.3" x2="648.28" y2="210.8" stroke="#338a33" stroke-width="1"/>
<rect x="646.28" y="196.7" width="4" height="5.0" fill="#338a33"/>
<line x1="654.10" y1="200.8" x2="654.10" y2="201.0" stroke="#e35151" stroke-width="1"/>
<rect x="652.40" y="174.1" width="3.4" height="26.3" fill="#fdf1f1" fill-opacity="0.7" stroke="#e35151" stroke-width="0.9"/>
<line x1="659.93" y1="165.8" x2="659.93" y2="172.5" stroke="#338a33" stroke-width="1"/>
<rect x="657.93" y="167.5" width="4" height="3.3" fill="#338a33"/>
<line x1="665.75" y1="164.7" x2="665.75" y2="172.5" stroke="#338a33" stroke-width="1"/>
<rect x="663.75" y="166.7" width="4" height="1.3" fill="#338a33"/>
<line x1="671.57" y1="164.2" x2="671.57" y2="170.5" stroke="#e35151" stroke-width="1"/>
<line x1="671.57" y1="171.5" x2="671.57" y2="175.8" stroke="#e35151" stroke-width="1"/>
<rect x="669.87" y="170.9" width="3.4" height="0.6" fill="#fdf1f1" fill-opacity="0.7" stroke="#e35151" stroke-width="0.9"/>
<line x1="677.39" y1="170.5" x2="677.39" y2="181.5" stroke="#338a33" stroke-width="1"/>
<rect x="675.39" y="172.0" width="4" height="7.0" fill="#338a33"/>
<line x1="683.21" y1="176.7" x2="683.21" y2="203.3" stroke="#338a33" stroke-width="1"/>
<rect x="681.21" y="182.5" width="4" height="16.2" fill="#338a33"/>
<line x1="689.03" y1="196.0" x2="689.03" y2="197.5" stroke="#e35151" stroke-width="1"/>
<line x1="689.03" y1="200.0" x2="689.03" y2="210.0" stroke="#e35151" stroke-width="1"/>
<rect x="687.33" y="197.9" width="3.4" height="1.7" fill="#fdf1f1" fill-opacity="0.7" stroke="#e35151" stroke-width="0.9"/>
<line x1="694.85" y1="192.5" x2="694.85" y2="200.8" stroke="#338a33" stroke-width="1"/>
<rect x="692.85" y="197.5" width="4" height="1.0" fill="#338a33"/>
<line x1="700.67" y1="190.8" x2="700.67" y2="196.3" stroke="#e35151" stroke-width="1"/>
<line x1="700.67" y1="199.2" x2="700.67" y2="200.0" stroke="#e35151" stroke-width="1"/>
<rect x="698.97" y="196.7" width="3.4" height="2.1" fill="#fdf1f1" fill-opacity="0.7" stroke="#e35151" stroke-width="0.9"/>
<line x1="706.49" y1="185.8" x2="706.49" y2="198.0" stroke="#e35151" stroke-width="1"/>
<line x1="706.49" y1="200.0" x2="706.49" y2="205.8" stroke="#e35151" stroke-width="1"/>
<rect x="704.79" y="198.4" width="3.4" height="1.2" fill="#fdf1f1" fill-opacity="0.7" stroke="#e35151" stroke-width="0.9"/>
<line x1="712.31" y1="194.2" x2="712.31" y2="208.0" stroke="#338a33" stroke-width="1"/>
<rect x="710.31" y="195.8" width="4" height="10.0" fill="#338a33"/>
<line x1="718.13" y1="201.7" x2="718.13" y2="218.3" stroke="#338a33" stroke-width="1"/>
<rect x="716.13" y="210.0" width="4" height="2.5" fill="#338a33"/>
<line x1="723.95" y1="203.0" x2="723.95" y2="206.7" stroke="#e35151" stroke-width="1"/>
<line x1="723.95" y1="210.3" x2="723.95" y2="211.0" stroke="#e35151" stroke-width="1"/>
<rect x="722.25" y="207.1" width="3.4" height="2.8" fill="#fdf1f1" fill-opacity="0.7" stroke="#e35151" stroke-width="0.9"/>
<line x1="729.78" y1="200.8" x2="729.78" y2="204.7" stroke="#e35151" stroke-width="1"/>
<line x1="729.78" y1="209.2" x2="729.78" y2="210.0" stroke="#e35151" stroke-width="1"/>
<rect x="728.08" y="205.1" width="3.4" height="3.7" fill="#fdf1f1" fill-opacity="0.7" stroke="#e35151" stroke-width="0.9"/>
<line x1="735.60" y1="203.3" x2="735.60" y2="210.0" stroke="#e35151" stroke-width="1"/>
<line x1="735.60" y1="221.3" x2="735.60" y2="221.5" stroke="#e35151" stroke-width="1"/>
<rect x="733.90" y="210.4" width="3.4" height="10.5" fill="#fdf1f1" fill-opacity="0.7" stroke="#e35151" stroke-width="0.9"/>
<line x1="741.42" y1="268.3" x2="741.42" y2="350.0" stroke="#338a33" stroke-width="1"/>
<rect x="739.42" y="279.2" width="4" height="45.0" fill="#338a33"/>
<line x1="747.24" y1="326.7" x2="747.24" y2="330.0" stroke="#e35151" stroke-width="1"/>
<rect x="745.54" y="302.4" width="3.4" height="23.9" fill="#fdf1f1" fill-opacity="0.7" stroke="#e35151" stroke-width="0.9"/>
<line x1="753.06" y1="318.3" x2="753.06" y2="337.5" stroke="#e35151" stroke-width="1"/>
<rect x="751.36" y="282.9" width="3.4" height="35.0" fill="#fdf1f1" fill-opacity="0.7" stroke="#e35151" stroke-width="0.9"/>
<line x1="758.88" y1="256.7" x2="758.88" y2="275.8" stroke="#338a33" stroke-width="1"/>
<rect x="756.88" y="263.7" width="4" height="1.6" fill="#338a33"/>
<line x1="764.70" y1="253.0" x2="764.70" y2="258.3" stroke="#e35151" stroke-width="1"/>
<line x1="764.70" y1="268.3" x2="764.70" y2="270.8" stroke="#e35151" stroke-width="1"/>
<rect x="763.00" y="258.7" width="3.4" height="9.2" fill="#fdf1f1" fill-opacity="0.7" stroke="#e35151" stroke-width="0.9"/>
<line x1="770.52" y1="242.5" x2="770.52" y2="247.5" stroke="#e35151" stroke-width="1"/>
<line x1="770.52" y1="252.5" x2="770.52" y2="256.7" stroke="#e35151" stroke-width="1"/>
<rect x="768.82" y="247.9" width="3.4" height="4.2" fill="#fdf1f1" fill-opacity="0.7" stroke="#e35151" stroke-width="0.9"/>
<line x1="776.34" y1="244.0" x2="776.34" y2="245.3" stroke="#e35151" stroke-width="1"/>
<line x1="776.34" y1="249.2" x2="776.34" y2="256.7" stroke="#e35151" stroke-width="1"/>
<rect x="774.64" y="245.7" width="3.4" height="3.1" fill="#fdf1f1" fill-opacity="0.7" stroke="#e35151" stroke-width="0.9"/>
<line x1="782.16" y1="240.5" x2="782.16" y2="241.3" stroke="#e35151" stroke-width="1"/>
<line x1="782.16" y1="245.3" x2="782.16" y2="250.0" stroke="#e35151" stroke-width="1"/>
<rect x="780.46" y="241.7" width="3.4" height="3.2" fill="#fdf1f1" fill-opacity="0.7" stroke="#e35151" stroke-width="0.9"/>
<line x1="787.98" y1="236.3" x2="787.98" y2="238.8" stroke="#e35151" stroke-width="1"/>
<line x1="787.98" y1="244.2" x2="787.98" y2="246.7" stroke="#e35151" stroke-width="1"/>
<rect x="786.28" y="239.2" width="3.4" height="4.6" fill="#fdf1f1" fill-opacity="0.7" stroke="#e35151" stroke-width="0.9"/>
<line x1="793.80" y1="238.3" x2="793.80" y2="240.0" stroke="#e35151" stroke-width="1"/>
<line x1="793.80" y1="243.3" x2="793.80" y2="246.7" stroke="#e35151" stroke-width="1"/>
<rect x="792.10" y="240.4" width="3.4" height="2.5" fill="#fdf1f1" fill-opacity="0.7" stroke="#e35151" stroke-width="0.9"/>
<line x1="799.62" y1="230.0" x2="799.62" y2="234.2" stroke="#e35151" stroke-width="1"/>
<line x1="799.62" y1="242.5" x2="799.62" y2="243.0" stroke="#e35151" stroke-width="1"/>
<rect x="797.92" y="234.6" width="3.4" height="7.5" fill="#fdf1f1" fill-opacity="0.7" stroke="#e35151" stroke-width="0.9"/>
<line x1="805.45" y1="224.8" x2="805.45" y2="230.5" stroke="#e35151" stroke-width="1"/>
<line x1="805.45" y1="235.2" x2="805.45" y2="236.0" stroke="#e35151" stroke-width="1"/>
<rect x="803.75" y="230.9" width="3.4" height="3.9" fill="#fdf1f1" fill-opacity="0.7" stroke="#e35151" stroke-width="0.9"/>
<line x1="811.27" y1="224.2" x2="811.27" y2="232.0" stroke="#338a33" stroke-width="1"/>
<rect x="809.27" y="227.5" width="4" height="3.4" fill="#338a33"/>
<line x1="817.09" y1="223.0" x2="817.09" y2="228.0" stroke="#e35151" stroke-width="1"/>
<line x1="817.09" y1="236.0" x2="817.09" y2="237.0" stroke="#e35151" stroke-width="1"/>
<rect x="815.39" y="228.4" width="3.4" height="7.2" fill="#fdf1f1" fill-opacity="0.7" stroke="#e35151" stroke-width="0.9"/>
<line x1="822.91" y1="227.0" x2="822.91" y2="234.0" stroke="#338a33" stroke-width="1"/>
<rect x="820.91" y="229.2" width="4" height="3.4" fill="#338a33"/>
<line x1="828.73" y1="231.0" x2="828.73" y2="238.0" stroke="#338a33" stroke-width="1"/>
<rect x="826.73" y="232.6" width="4" height="2.8" fill="#338a33"/>
<line x1="834.55" y1="233.0" x2="834.55" y2="234.5" stroke="#e35151" stroke-width="1"/>
<line x1="834.55" y1="239.3" x2="834.55" y2="240.0" stroke="#e35151" stroke-width="1"/>
<rect x="832.85" y="234.9" width="3.4" height="4.0" fill="#fdf1f1" fill-opacity="0.7" stroke="#e35151" stroke-width="0.9"/>
<line x1="840.37" y1="235.0" x2="840.37" y2="240.0" stroke="#338a33" stroke-width="1"/>
<rect x="838.37" y="236.6" width="4" height="2.4" fill="#338a33"/>
<line x1="846.19" y1="222.0" x2="846.19" y2="222.3" stroke="#e35151" stroke-width="1"/>
<line x1="846.19" y1="231.0" x2="846.19" y2="232.0" stroke="#e35151" stroke-width="1"/>
<rect x="844.49" y="222.7" width="3.4" height="7.9" fill="#fdf1f1" fill-opacity="0.7" stroke="#e35151" stroke-width="0.9"/>
<line x1="852.01" y1="202.0" x2="852.01" y2="218.0" stroke="#338a33" stroke-width="1"/>
<rect x="850.01" y="204.5" width="4" height="5.2" fill="#338a33"/>
<line x1="857.83" y1="202.4" x2="857.83" y2="205.5" stroke="#e35151" stroke-width="1"/>
<line x1="857.83" y1="215.3" x2="857.83" y2="215.5" stroke="#e35151" stroke-width="1"/>
<rect x="856.13" y="205.9" width="3.4" height="9.0" fill="#fdf1f1" fill-opacity="0.7" stroke="#e35151" stroke-width="0.9"/>
<line x1="863.65" y1="205.5" x2="863.65" y2="213.0" stroke="#338a33" stroke-width="1"/>
<rect x="861.65" y="206.3" width="4" height="3.4" fill="#338a33"/>
<line x1="869.47" y1="196.0" x2="869.47" y2="197.4" stroke="#e35151" stroke-width="1"/>
<line x1="869.47" y1="205.5" x2="869.47" y2="206.0" stroke="#e35151" stroke-width="1"/>
<rect x="867.77" y="197.8" width="3.4" height="7.3" fill="#fdf1f1" fill-opacity="0.7" stroke="#e35151" stroke-width="0.9"/>
<line x1="875.30" y1="189.5" x2="875.30" y2="196.8" stroke="#338a33" stroke-width="1"/>
<rect x="873.30" y="189.9" width="4" height="4.7" fill="#338a33"/>
<polyline points="0.0,379.2 28.3,380.8 96.7,376.3 180.0,368.3 200.0,366.5 300.0,355.5 400.0,344.0 473.0,336.8 510.0,331.7 560.0,323.3 610.0,315.0 689.7,306.3 746.7,301.3 796.7,297.5 859.7,292.5 875.0,291.5" fill="none" stroke="#f6b650" stroke-width="0.95" stroke-linejoin="round" />
<polyline points="0.0,430.0 11.7,432.0 25.0,432.0 33.3,427.5 38.3,422.5 46.7,420.0 80.0,408.3 96.7,401.7 130.0,383.3 180.0,350.8 233.3,317.0 270.0,295.0 303.3,265.0 326.7,245.0 340.0,232.5 349.7,225.0 356.7,218.3 370.0,210.8 380.0,208.7 390.0,210.8 420.0,211.7 456.7,213.3 490.0,216.3 519.7,220.0 548.3,222.5 576.7,222.0 593.3,220.0 626.7,220.0 689.7,220.3 738.3,222.0 763.3,223.3 796.7,220.0 824.7,218.6 851.5,216.4 875.0,215.3" fill="none" stroke="#3f9c3f" stroke-width="0.95" stroke-linejoin="round" />
<polyline points="0.0,473.3 13.3,474.2 21.7,467.5 30.0,453.3 38.3,433.3 45.0,421.7 76.7,365.0 88.5,337.0 95.5,323.3 105.0,300.5 115.4,278.0 122.9,262.0 130.4,250.7 137.0,242.2 142.6,239.9 148.2,240.5 153.8,242.7 161.4,239.4 169.8,231.0 179.2,223.5 190.0,215.0 196.0,209.5 220.0,202.5 240.0,205.0 263.3,202.0 276.7,201.7 293.3,206.7 306.7,206.7 316.7,203.3 336.7,200.8 340.0,202.5 360.0,194.2 381.7,185.0 395.0,190.8 410.0,201.7 423.3,213.3 433.3,224.2 448.3,233.3 466.7,241.7 481.7,252.5 493.3,259.2 503.3,263.7 513.3,260.8 519.7,258.3 526.7,253.3 551.7,238.3 576.7,225.0 596.7,216.7 618.3,207.5 636.7,203.3 651.7,202.5 665.0,196.7 678.3,194.2 689.7,195.0 705.0,195.0 726.7,192.5 736.7,195.0 746.7,203.3 760.0,213.3 773.3,221.7 788.3,231.7 805.0,238.3 821.7,241.7 838.3,245.8 853.3,247.5 863.8,237.0 875.0,231.0" fill="none" stroke="#8f8f8f" stroke-width="0.9" stroke-linejoin="round" />
<polyline points="0.0,497.5 8.3,490.8 16.7,476.7 25.0,456.7 30.0,433.3 32.5,420.0 35.0,403.3 40.8,375.0 47.5,340.0 53.3,320.0 56.7,300.0 61.7,283.3 66.7,271.7 73.3,257.5 80.0,245.8 84.2,243.0 89.2,246.7 96.7,255.8 103.3,254.2 108.3,254.2 116.7,249.2 126.7,244.2 136.7,237.5 146.7,235.0 155.0,229.2 161.7,225.0 166.7,213.3 170.0,211.0 180.0,196.7 193.3,183.3 205.0,180.0 218.3,182.5 226.7,191.7 236.7,208.3 246.7,220.0 256.7,224.2 268.3,220.8 280.0,221.3 290.0,211.7 301.7,195.0 311.7,185.8 320.0,182.5 336.7,182.5 356.7,187.5 370.0,191.7 381.7,190.8 390.0,193.3 400.0,205.0 411.7,220.0 421.7,236.7 430.8,251.8 433.3,253.3 443.3,267.5 451.7,270.8 463.3,268.0 473.3,268.3 486.7,264.2 498.3,260.0 510.0,253.3 519.7,246.7 526.7,240.0 543.3,225.0 556.7,216.7 568.3,209.2 581.7,205.0 590.0,202.5 600.0,205.0 613.3,205.0 626.7,203.7 643.3,203.7 653.3,200.8 663.3,190.0 673.3,185.0 689.7,185.0 706.7,185.0 713.3,188.3 730.0,200.0 738.3,208.3 746.7,225.0 758.3,241.7 773.3,255.0 786.7,261.8 793.3,265.0 806.7,250.0 816.7,240.0 824.7,236.5 842.6,234.8 858.2,228.1 875.0,219.2" fill="none" stroke="#ff38ff" stroke-width="0.95" stroke-linejoin="round" />
<polyline points="0.0,498.3 3.3,495.8 10.0,475.0 16.7,453.3 21.7,431.7 25.0,413.3 30.0,370.0 34.7,320.0 35.8,308.3 40.0,275.0 45.0,246.7 50.0,230.0 55.0,220.0 60.8,226.7 63.3,240.0 68.3,250.0 73.3,260.0 78.3,268.7 84.2,265.8 89.2,267.5 95.8,256.7 101.7,245.0 108.3,239.2 115.0,234.2 124.2,230.8 130.0,234.2 136.7,235.0 143.3,237.0 148.3,237.5 153.3,230.8 156.7,225.0 161.7,211.7 166.7,196.7 170.0,187.0 173.3,177.0 176.7,167.0 180.0,163.5 188.3,159.2 195.0,168.3 205.8,191.7 218.3,206.7 228.3,213.3 250.0,236.8 253.0,238.0 256.7,235.8 270.0,215.0 280.0,203.3 293.3,190.0 303.3,181.7 311.7,171.7 321.7,173.3 330.0,181.7 340.0,192.5 351.7,198.3 365.0,192.5 380.8,184.7 388.3,190.0 395.0,206.7 403.3,233.3 409.2,251.8 413.3,260.8 423.3,270.0 433.3,276.7 445.0,275.8 453.3,270.0 461.7,258.3 470.0,259.2 478.3,260.8 490.0,259.2 498.3,260.0 508.3,248.3 519.7,233.3 530.0,220.0 540.0,213.3 551.7,210.8 566.7,205.8 580.0,200.8 590.0,195.8 598.3,204.2 610.0,210.0 618.3,212.5 630.0,203.3 640.0,194.7 648.3,197.5 660.0,185.8 676.7,172.5 689.7,185.8 700.8,192.5 710.0,198.3 721.7,204.2 735.0,207.5 738.3,220.0 743.3,236.7 751.7,261.8 765.0,286.7 773.3,265.0 783.3,250.0 796.7,240.8 813.3,234.2 830.0,231.7 840.3,234.8 851.5,229.2 862.7,219.2 875.0,204.1" fill="none" stroke="#3030a0" stroke-width="0.95" stroke-linejoin="round" />
<rect x="0.48" y="633.7" width="3.4" height="21.3" fill="#fbe9e9" stroke="#e35151" stroke-width="0.8"/>
<rect x="6.30" y="615.7" width="3.4" height="39.3" fill="#fbe9e9" stroke="#e35151" stroke-width="0.8"/>
<rect x="12.12" y="607.9" width="3.4" height="47.1" fill="#fbe9e9" stroke="#e35151" stroke-width="0.8"/>
<rect x="17.94" y="607.9" width="3.4" height="47.1" fill="#fbe9e9" stroke="#e35151" stroke-width="0.8"/>
<rect x="23.76" y="614.1" width="3.4" height="40.9" fill="#fbe9e9" stroke="#e35151" stroke-width="0.8"/>
<rect x="29.58" y="564.6" width="3.4" height="90.4" fill="#fbe9e9" stroke="#e35151" stroke-width="0.8"/>
<rect x="35.40" y="546.7" width="3.4" height="108.3" fill="#fbe9e9" stroke="#e35151" stroke-width="0.8"/>
<rect x="41.02" y="572.5" width="3.8" height="82.5" fill="#338a33"/>
<rect x="47.04" y="585.9" width="3.4" height="69.1" fill="#fbe9e9" stroke="#e35151" stroke-width="0.8"/>
<rect x="52.66" y="604.7" width="3.8" height="50.3" fill="#338a33"/>
<rect x="58.68" y="603.7" width="3.4" height="51.3" fill="#fbe9e9" stroke="#e35151" stroke-width="0.8"/>
<rect x="64.30" y="608.3" width="3.8" height="46.7" fill="#338a33"/>
<rect x="70.32" y="612.9" width="3.4" height="42.1" fill="#fbe9e9" stroke="#e35151" stroke-width="0.8"/>
<rect x="75.95" y="611.7" width="3.8" height="43.3" fill="#338a33"/>
<rect x="81.97" y="597.9" width="3.4" height="57.1" fill="#fbe9e9" stroke="#e35151" stroke-width="0.8"/>
<rect x="87.79" y="600.4" width="3.4" height="54.6" fill="#fbe9e9" stroke="#e35151" stroke-width="0.8"/>
<rect x="93.61" y="607.9" width="3.4" height="47.1" fill="#fbe9e9" stroke="#e35151" stroke-width="0.8"/>
<rect x="99.43" y="602.1" width="3.4" height="52.9" fill="#fbe9e9" stroke="#e35151" stroke-width="0.8"/>
<rect x="105.05" y="611.7" width="3.8" height="43.3" fill="#338a33"/>
<rect x="111.07" y="606.7" width="3.4" height="48.3" fill="#fbe9e9" stroke="#e35151" stroke-width="0.8"/>
<rect x="116.89" y="599.6" width="3.4" height="55.4" fill="#fbe9e9" stroke="#e35151" stroke-width="0.8"/>
<rect x="122.51" y="595.0" width="3.8" height="60.0" fill="#338a33"/>
<rect x="128.33" y="600.0" width="3.8" height="55.0" fill="#338a33"/>
<rect x="134.35" y="590.1" width="3.4" height="64.9" fill="#fbe9e9" stroke="#e35151" stroke-width="0.8"/>
<rect x="139.97" y="584.2" width="3.8" height="70.8" fill="#338a33"/>
<rect x="146.00" y="600.4" width="3.4" height="54.6" fill="#fbe9e9" stroke="#e35151" stroke-width="0.8"/>
<rect x="151.82" y="587.9" width="3.4" height="67.1" fill="#fbe9e9" stroke="#e35151" stroke-width="0.8"/>
<rect x="157.44" y="580.8" width="3.8" height="74.2" fill="#338a33"/>
<rect x="163.46" y="575.7" width="3.4" height="79.3" fill="#fbe9e9" stroke="#e35151" stroke-width="0.8"/>
<rect x="169.08" y="575.0" width="3.8" height="80.0" fill="#338a33"/>
<rect x="175.10" y="588.4" width="3.4" height="66.6" fill="#fbe9e9" stroke="#e35151" stroke-width="0.8"/>
<rect x="180.72" y="587.0" width="3.8" height="68.0" fill="#338a33"/>
<rect x="186.74" y="599.6" width="3.4" height="55.4" fill="#fbe9e9" stroke="#e35151" stroke-width="0.8"/>
<rect x="192.36" y="603.0" width="3.8" height="52.0" fill="#338a33"/>
<rect x="198.18" y="603.0" width="3.8" height="52.0" fill="#338a33"/>
<rect x="204.00" y="593.3" width="3.8" height="61.7" fill="#338a33"/>
<rect x="210.02" y="603.7" width="3.4" height="51.3" fill="#fbe9e9" stroke="#e35151" stroke-width="0.8"/>
<rect x="215.84" y="608.7" width="3.4" height="46.3" fill="#fbe9e9" stroke="#e35151" stroke-width="0.8"/>
<rect x="221.67" y="611.7" width="3.4" height="43.3" fill="#fbe9e9" stroke="#e35151" stroke-width="0.8"/>
<rect x="227.29" y="603.3" width="3.8" height="51.7" fill="#338a33"/>
<rect x="233.11" y="610.0" width="3.8" height="45.0" fill="#338a33"/>
<rect x="238.93" y="616.3" width="3.8" height="38.7" fill="#338a33"/>
<rect x="244.95" y="612.9" width="3.4" height="42.1" fill="#fbe9e9" stroke="#e35151" stroke-width="0.8"/>
<rect x="250.57" y="612.0" width="3.8" height="43.0" fill="#338a33"/>
<rect x="256.59" y="607.4" width="3.4" height="47.6" fill="#fbe9e9" stroke="#e35151" stroke-width="0.8"/>
<rect x="262.41" y="600.4" width="3.4" height="54.6" fill="#fbe9e9" stroke="#e35151" stroke-width="0.8"/>
<rect x="268.23" y="600.4" width="3.4" height="54.6" fill="#fbe9e9" stroke="#e35151" stroke-width="0.8"/>
<rect x="273.85" y="604.2" width="3.8" height="50.8" fill="#338a33"/>
<rect x="279.87" y="610.4" width="3.4" height="44.6" fill="#fbe9e9" stroke="#e35151" stroke-width="0.8"/>
<rect x="285.69" y="597.9" width="3.4" height="57.1" fill="#fbe9e9" stroke="#e35151" stroke-width="0.8"/>
<rect x="291.32" y="597.5" width="3.8" height="57.5" fill="#338a33"/>
<rect x="297.34" y="591.2" width="3.4" height="63.8" fill="#fbe9e9" stroke="#e35151" stroke-width="0.8"/>
<rect x="303.16" y="598.7" width="3.4" height="56.3" fill="#fbe9e9" stroke="#e35151" stroke-width="0.8"/>
<rect x="308.98" y="597.1" width="3.4" height="57.9" fill="#fbe9e9" stroke="#e35151" stroke-width="0.8"/>
<rect x="314.60" y="590.3" width="3.8" height="64.7" fill="#338a33"/>
<rect x="320.42" y="603.0" width="3.8" height="52.0" fill="#338a33"/>
<rect x="326.24" y="607.5" width="3.8" height="47.5" fill="#338a33"/>
<rect x="332.26" y="612.6" width="3.4" height="42.4" fill="#fbe9e9" stroke="#e35151" stroke-width="0.8"/>
<rect x="337.88" y="612.2" width="3.8" height="42.8" fill="#338a33"/>
<rect x="343.70" y="614.7" width="3.8" height="40.3" fill="#338a33"/>
<rect x="349.52" y="609.2" width="3.8" height="45.8" fill="#338a33"/>
<rect x="355.54" y="616.7" width="3.4" height="38.3" fill="#fbe9e9" stroke="#e35151" stroke-width="0.8"/>
<rect x="361.16" y="616.3" width="3.8" height="38.7" fill="#338a33"/>
<rect x="367.19" y="620.7" width="3.4" height="34.3" fill="#fbe9e9" stroke="#e35151" stroke-width="0.8"/>
<rect x="373.01" y="614.6" width="3.4" height="40.4" fill="#fbe9e9" stroke="#e35151" stroke-width="0.8"/>
<rect x="378.83" y="617.4" width="3.4" height="37.6" fill="#fbe9e9" stroke="#e35151" stroke-width="0.8"/>
<rect x="384.45" y="613.0" width="3.8" height="42.0" fill="#338a33"/>
<rect x="390.27" y="608.3" width="3.8" height="46.7" fill="#338a33"/>
<rect x="396.09" y="612.5" width="3.8" height="42.5" fill="#338a33"/>
<rect x="401.91" y="619.2" width="3.8" height="35.8" fill="#338a33"/>
<rect x="407.93" y="621.7" width="3.4" height="33.3" fill="#fbe9e9" stroke="#e35151" stroke-width="0.8"/>
<rect x="413.75" y="616.7" width="3.4" height="38.3" fill="#fbe9e9" stroke="#e35151" stroke-width="0.8"/>
<rect x="419.37" y="623.3" width="3.8" height="31.7" fill="#338a33"/>
<rect x="425.19" y="622.0" width="3.8" height="33.0" fill="#338a33"/>
<rect x="431.01" y="624.2" width="3.8" height="30.8" fill="#338a33"/>
<rect x="437.04" y="616.7" width="3.4" height="38.3" fill="#fbe9e9" stroke="#e35151" stroke-width="0.8"/>
<rect x="442.66" y="621.7" width="3.8" height="33.3" fill="#338a33"/>
<rect x="448.68" y="621.2" width="3.4" height="33.8" fill="#fbe9e9" stroke="#e35151" stroke-width="0.8"/>
<rect x="454.50" y="623.7" width="3.4" height="31.3" fill="#fbe9e9" stroke="#e35151" stroke-width="0.8"/>
<rect x="460.32" y="621.7" width="3.4" height="33.3" fill="#fbe9e9" stroke="#e35151" stroke-width="0.8"/>
<rect x="465.94" y="623.0" width="3.8" height="32.0" fill="#338a33"/>
<rect x="471.76" y="625.0" width="3.8" height="30.0" fill="#338a33"/>
<rect x="477.78" y="617.9" width="3.4" height="37.1" fill="#fbe9e9" stroke="#e35151" stroke-width="0.8"/>
<rect x="483.60" y="622.1" width="3.4" height="32.9" fill="#fbe9e9" stroke="#e35151" stroke-width="0.8"/>
<rect x="489.22" y="622.0" width="3.8" height="33.0" fill="#338a33"/>
<rect x="495.04" y="621.3" width="3.8" height="33.7" fill="#338a33"/>
<rect x="501.06" y="617.9" width="3.4" height="37.1" fill="#fbe9e9" stroke="#e35151" stroke-width="0.8"/>
<rect x="506.88" y="605.7" width="3.4" height="49.3" fill="#fbe9e9" stroke="#e35151" stroke-width="0.8"/>
<rect x="512.71" y="612.1" width="3.4" height="42.9" fill="#fbe9e9" stroke="#e35151" stroke-width="0.8"/>
<rect x="518.33" y="611.7" width="3.8" height="43.3" fill="#338a33"/>
<rect x="524.35" y="612.1" width="3.4" height="42.9" fill="#fbe9e9" stroke="#e35151" stroke-width="0.8"/>
<rect x="529.97" y="607.5" width="3.8" height="47.5" fill="#338a33"/>
<rect x="535.99" y="612.9" width="3.4" height="42.1" fill="#fbe9e9" stroke="#e35151" stroke-width="0.8"/>
<rect x="541.81" y="607.1" width="3.4" height="47.9" fill="#fbe9e9" stroke="#e35151" stroke-width="0.8"/>
<rect x="547.43" y="608.3" width="3.8" height="46.7" fill="#338a33"/>
<rect x="553.45" y="613.4" width="3.4" height="41.6" fill="#fbe9e9" stroke="#e35151" stroke-width="0.8"/>
<rect x="559.07" y="610.8" width="3.8" height="44.2" fill="#338a33"/>
<rect x="565.09" y="605.1" width="3.4" height="49.9" fill="#fbe9e9" stroke="#e35151" stroke-width="0.8"/>
<rect x="570.71" y="605.3" width="3.8" height="49.7" fill="#338a33"/>
<rect x="576.53" y="611.7" width="3.8" height="43.3" fill="#338a33"/>
<rect x="582.56" y="610.4" width="3.4" height="44.6" fill="#fbe9e9" stroke="#e35151" stroke-width="0.8"/>
<rect x="588.38" y="609.6" width="3.4" height="45.4" fill="#fbe9e9" stroke="#e35151" stroke-width="0.8"/>
<rect x="594.00" y="607.5" width="3.8" height="47.5" fill="#338a33"/>
<rect x="599.82" y="613.0" width="3.8" height="42.0" fill="#338a33"/>
<rect x="605.84" y="620.1" width="3.4" height="34.9" fill="#fbe9e9" stroke="#e35151" stroke-width="0.8"/>
<rect x="611.66" y="617.9" width="3.4" height="37.1" fill="#fbe9e9" stroke="#e35151" stroke-width="0.8"/>
<rect x="617.48" y="611.2" width="3.4" height="43.8" fill="#fbe9e9" stroke="#e35151" stroke-width="0.8"/>
<rect x="623.10" y="612.5" width="3.8" height="42.5" fill="#338a33"/>
<rect x="628.92" y="618.0" width="3.8" height="37.0" fill="#338a33"/>
<rect x="634.94" y="618.7" width="3.4" height="36.3" fill="#fbe9e9" stroke="#e35151" stroke-width="0.8"/>
<rect x="640.56" y="613.3" width="3.8" height="41.7" fill="#338a33"/>
<rect x="646.38" y="612.5" width="3.8" height="42.5" fill="#338a33"/>
<rect x="652.40" y="607.9" width="3.4" height="47.1" fill="#fbe9e9" stroke="#e35151" stroke-width="0.8"/>
<rect x="658.23" y="613.7" width="3.4" height="41.3" fill="#fbe9e9" stroke="#e35151" stroke-width="0.8"/>
<rect x="664.05" y="617.9" width="3.4" height="37.1" fill="#fbe9e9" stroke="#e35151" stroke-width="0.8"/>
<rect x="669.67" y="618.7" width="3.8" height="36.3" fill="#338a33"/>
<rect x="675.49" y="618.0" width="3.8" height="37.0" fill="#338a33"/>
<rect x="681.31" y="611.7" width="3.8" height="43.3" fill="#338a33"/>
<rect x="687.33" y="612.9" width="3.4" height="42.1" fill="#fbe9e9" stroke="#e35151" stroke-width="0.8"/>
<rect x="692.95" y="617.0" width="3.8" height="38.0" fill="#338a33"/>
<rect x="698.77" y="619.7" width="3.8" height="35.3" fill="#338a33"/>
<rect x="704.79" y="621.7" width="3.4" height="33.3" fill="#fbe9e9" stroke="#e35151" stroke-width="0.8"/>
<rect x="710.41" y="621.3" width="3.8" height="33.7" fill="#338a33"/>
<rect x="716.23" y="615.8" width="3.8" height="39.2" fill="#338a33"/>
<rect x="722.25" y="621.2" width="3.4" height="33.8" fill="#fbe9e9" stroke="#e35151" stroke-width="0.8"/>
<rect x="728.08" y="626.2" width="3.4" height="28.8" fill="#fbe9e9" stroke="#e35151" stroke-width="0.8"/>
<rect x="733.70" y="622.0" width="3.8" height="33.0" fill="#338a33"/>
<rect x="739.52" y="600.0" width="3.8" height="55.0" fill="#338a33"/>
<rect x="745.54" y="600.4" width="3.4" height="54.6" fill="#fbe9e9" stroke="#e35151" stroke-width="0.8"/>
<rect x="751.36" y="598.7" width="3.4" height="56.3" fill="#fbe9e9" stroke="#e35151" stroke-width="0.8"/>
<rect x="757.18" y="607.1" width="3.4" height="47.9" fill="#fbe9e9" stroke="#e35151" stroke-width="0.8"/>
<rect x="763.00" y="615.7" width="3.4" height="39.3" fill="#fbe9e9" stroke="#e35151" stroke-width="0.8"/>
<rect x="768.82" y="617.1" width="3.4" height="37.9" fill="#fbe9e9" stroke="#e35151" stroke-width="0.8"/>
<rect x="774.64" y="622.9" width="3.4" height="32.1" fill="#fbe9e9" stroke="#e35151" stroke-width="0.8"/>
<rect x="780.46" y="620.1" width="3.4" height="34.9" fill="#fbe9e9" stroke="#e35151" stroke-width="0.8"/>
<rect x="786.28" y="623.7" width="3.4" height="31.3" fill="#fbe9e9" stroke="#e35151" stroke-width="0.8"/>
<rect x="791.90" y="625.8" width="3.8" height="29.2" fill="#338a33"/>
<rect x="797.92" y="623.7" width="3.4" height="31.3" fill="#fbe9e9" stroke="#e35151" stroke-width="0.8"/>
<rect x="803.75" y="622.4" width="3.4" height="32.6" fill="#fbe9e9" stroke="#e35151" stroke-width="0.8"/>
<rect x="809.37" y="621.3" width="3.8" height="33.7" fill="#338a33"/>
<rect x="815.39" y="622.4" width="3.4" height="32.6" fill="#fbe9e9" stroke="#e35151" stroke-width="0.8"/>
<rect x="821.01" y="621.3" width="3.8" height="33.7" fill="#338a33"/>
<rect x="826.83" y="621.3" width="3.8" height="33.7" fill="#338a33"/>
<rect x="832.65" y="622.0" width="3.8" height="33.0" fill="#338a33"/>
<rect x="838.47" y="618.7" width="3.8" height="36.3" fill="#338a33"/>
<rect x="844.49" y="615.7" width="3.4" height="39.3" fill="#fbe9e9" stroke="#e35151" stroke-width="0.8"/>
<rect x="850.31" y="614.1" width="3.4" height="40.9" fill="#fbe9e9" stroke="#e35151" stroke-width="0.8"/>
<rect x="856.13" y="619.6" width="3.4" height="35.4" fill="#fbe9e9" stroke="#e35151" stroke-width="0.8"/>
<rect x="861.75" y="621.7" width="3.8" height="33.3" fill="#338a33"/>
<rect x="867.77" y="620.4" width="3.4" height="34.6" fill="#fbe9e9" stroke="#e35151" stroke-width="0.8"/>
<rect x="873.60" y="619.6" width="3.4" height="35.4" fill="#fbe9e9" stroke="#e35151" stroke-width="0.8"/>
<polyline points="0.0,633.3 10.0,630.0 25.0,624.2 33.3,616.7 41.7,603.3 50.0,597.0 60.0,592.5 70.0,592.0 78.3,592.5 83.3,590.0 93.3,598.3 103.3,603.7 116.7,605.3 130.0,602.5 141.7,599.2 150.0,598.3 160.0,595.0 170.0,590.0 183.3,585.8 198.3,589.7 208.3,589.2 225.0,597.5 241.7,605.0 256.7,608.0 273.3,608.0 286.7,607.0 300.0,603.3 316.7,598.3 330.0,600.0 349.7,603.3 356.7,605.8 373.3,612.5 390.0,614.2 413.3,615.0 431.7,618.0 453.3,619.7 473.3,621.7 498.3,621.7 510.0,620.0 526.7,615.0 543.3,611.7 568.3,610.0 593.3,609.2 610.0,610.8 626.7,611.7 643.3,613.7 676.7,614.2 700.0,614.2 716.7,617.0 736.7,618.7 746.7,615.8 760.0,612.5 795.0,612.2 806.7,617.5 816.7,621.3 838.3,621.7 859.7,619.7 875.0,619.0" fill="none" stroke="#8f8f8f" stroke-width="0.9" stroke-linejoin="round" />
<polyline points="0.0,632.5 8.3,626.7 16.7,620.8 25.8,615.0 31.7,601.7 37.5,587.5 45.0,578.3 54.2,575.0 60.0,582.5 66.7,595.0 73.3,603.3 79.2,607.5 90.0,606.3 100.0,604.2 113.3,605.3 125.0,603.3 133.3,600.8 141.7,593.7 151.7,593.0 160.0,588.7 170.0,584.2 180.0,580.8 188.3,585.0 200.0,595.0 211.7,600.8 223.3,603.7 233.3,605.8 245.0,610.8 258.3,611.7 268.3,606.7 280.0,604.2 291.7,600.8 303.3,598.3 315.0,594.2 323.3,596.7 333.3,602.5 343.3,609.2 353.3,612.5 368.3,615.0 380.0,616.3 393.3,613.7 410.0,614.7 423.3,619.2 433.3,620.8 456.7,620.8 473.3,622.0 498.3,621.7 510.0,617.5 520.0,613.3 531.7,609.2 551.7,609.7 568.3,609.7 590.0,608.0 600.0,609.2 613.3,613.3 630.0,615.0 646.7,614.7 660.0,612.5 673.3,613.7 689.7,615.0 701.7,615.3 713.3,618.3 730.0,621.3 736.7,620.8 743.3,615.8 753.3,608.3 765.0,603.7 773.3,609.2 783.3,616.7 796.7,622.0 813.3,623.0 830.0,622.5 843.3,620.8 853.3,618.0 875.0,617.5" fill="none" stroke="#ff38ff" stroke-width="0.95" stroke-linejoin="round" />
<line x1="433.3" y1="304.2" x2="700" y2="191.4" stroke="#3838f5" stroke-width="1.1"/>
<line x1="0" y1="465" x2="8.5" y2="468" stroke="#3434f2" stroke-width="1.2"/>
<defs><linearGradient id="g1" gradientUnits="userSpaceOnUse" x1="86" y1="298" x2="390.8" y2="226.3"><stop offset="0" stop-color="#ff2a2a" stop-opacity="0.15"/><stop offset="0.35" stop-color="#ff2a2a" stop-opacity="0.9"/><stop offset="1" stop-color="#ff2a2a"/></linearGradient></defs>
<polygon points="86.1,298.3 382.8,231.5 383.2,233.5 390.8,226.3 380.8,223.3 381.3,225.2 85.9,297.7" fill="url(#g1)"/>
<defs><linearGradient id="g2" gradientUnits="userSpaceOnUse" x1="40.8" y1="547.5" x2="455" y2="614.2"><stop offset="0" stop-color="#ff2a2a" stop-opacity="0.15"/><stop offset="0.35" stop-color="#ff2a2a" stop-opacity="0.9"/><stop offset="1" stop-color="#ff2a2a"/></linearGradient></defs>
<polygon points="40.8,547.7 445.7,615.0 445.4,617.5 455.0,614.2 446.9,608.1 446.5,610.5 40.8,547.3" fill="url(#g2)"/>
<defs><linearGradient id="g3" gradientUnits="userSpaceOnUse" x1="755.8" y1="600.8" x2="891.7" y2="617"><stop offset="0" stop-color="#ff2a2a" stop-opacity="0.15"/><stop offset="0.35" stop-color="#ff2a2a" stop-opacity="0.9"/><stop offset="1" stop-color="#ff2a2a"/></linearGradient></defs>
<polygon points="755.8,601.0 886.6,617.3 886.4,618.9 891.7,617.0 887.0,613.9 886.8,615.5 755.8,600.6" fill="url(#g3)"/>
<defs><linearGradient id="g4" gradientUnits="userSpaceOnUse" x1="676" y1="0" x2="770" y2="0"><stop offset="0" stop-color="#ff2a2a" stop-opacity="0"/><stop offset="1" stop-color="#ff2a2a"/></linearGradient></defs>
<polygon points="676,174 770,172.9 770,175.1" fill="url(#g4)"/>
<line x1="770" y1="174" x2="1001" y2="174" stroke="#ff2a2a" stroke-width="2"/>
<polygon points="880.5,170.8 887,174 880.5,177.2" fill="#ff2a2a"/>
<polyline points="859.6,174 859.6,248.7 1000.8,248.7 1000.8,174" fill="none" stroke="#fa3636" stroke-width="1.7" stroke-linejoin="round"/>
<ellipse cx="792" cy="287.5" rx="40" ry="11.25" fill="none" stroke="#f23b3b" stroke-width="1.5"/>
<ellipse cx="848.3" cy="230" rx="40.6" ry="7.7" fill="none" stroke="#f23b3b" stroke-width="1.5"/>
<ellipse cx="555" cy="606.2" rx="56" ry="6.3" fill="none" stroke="#f23b3b" stroke-width="1.5"/>
<ellipse cx="1042" cy="206" rx="18.8" ry="21.7" fill="none" stroke="#f23b3b" stroke-width="1.5"/>
<polygon points="8.0,489.8 10.9,492.8 9.2,492.8 9.2,499.9 6.8,499.9 6.8,492.8 5.0,492.8" fill="#ff0e0e"/>
<polygon points="84.2,298.8 87.2,301.8 85.4,301.8 85.4,308.9 83.0,308.9 83.0,301.8 81.2,301.8" fill="#ff0e0e"/>
<polygon points="148.0,248.8 150.9,251.8 149.2,251.8 149.2,258.4 146.8,258.4 146.8,251.8 145.1,251.8" fill="#ff0e0e"/>
<polygon points="153.3,232.8 156.2,235.8 154.5,235.8 154.5,243.4 152.2,243.4 152.2,235.8 150.4,235.8" fill="#ff0e0e"/>
<polygon points="165.0,206.3 167.9,209.3 166.2,209.3 166.2,217.6 163.8,217.6 163.8,209.3 162.1,209.3" fill="#ff0e0e"/>
<polygon points="247.0,270.1 249.9,273.1 248.2,273.1 248.2,280.9 245.8,280.9 245.8,273.1 244.1,273.1" fill="#ff0e0e"/>
<polygon points="258.7,237.1 261.6,240.1 259.8,240.1 259.8,247.6 257.6,247.6 257.6,240.1 255.8,240.1" fill="#ff0e0e"/>
<polygon points="310.8,174.6 313.8,177.6 311.9,177.6 311.9,185.1 309.7,185.1 309.7,177.6 307.9,177.6" fill="#ff0e0e"/>
<polygon points="316.3,192.1 319.2,195.1 317.4,195.1 317.4,203.4 315.2,203.4 315.2,195.1 313.4,195.1" fill="#ff0e0e"/>
<polygon points="339.7,211.3 342.6,214.3 340.8,214.3 340.8,222.6 338.6,222.6 338.6,214.3 336.8,214.3" fill="#ff0e0e"/>
<polygon points="357.5,207.1 360.4,210.1 358.6,210.1 358.6,218.4 356.4,218.4 356.4,210.1 354.6,210.1" fill="#ff0e0e"/>
<polygon points="439.3,298.8 442.2,301.8 440.4,301.8 440.4,309.2 438.2,309.2 438.2,301.8 436.4,301.8" fill="#ff0e0e"/>
<polygon points="468.0,267.5 470.9,270.5 469.1,270.5 469.1,278.4 466.9,278.4 466.9,270.5 465.1,270.5" fill="#ff0e0e"/>
<polygon points="502.5,267.5 505.4,270.5 503.6,270.5 503.6,278.4 501.4,278.4 501.4,270.5 499.6,270.5" fill="#ff0e0e"/>
<polygon points="508.8,247.1 511.8,250.1 509.9,250.1 509.9,258.4 507.7,258.4 507.7,250.1 505.9,250.1" fill="#ff0e0e"/>
<polygon points="578.7,213.8 581.7,216.8 579.9,216.8 579.9,224.2 577.6,224.2 577.6,216.8 575.8,216.8" fill="#ff0e0e"/>
<polygon points="607.5,233.8 610.5,236.8 608.6,236.8 608.6,243.4 606.4,243.4 606.4,236.8 604.5,236.8" fill="#ff0e0e"/>
<polygon points="654.2,203.0 657.2,206.0 655.4,206.0 655.4,214.2 653.1,214.2 653.1,206.0 651.2,206.0" fill="#ff0e0e"/>
<polygon points="683.3,206.3 686.2,209.3 684.4,209.3 684.4,217.6 682.1,217.6 682.1,209.3 680.3,209.3" fill="#ff0e0e"/>
<polygon points="747.5,341.3 750.5,344.3 748.6,344.3 748.6,351.9 746.4,351.9 746.4,344.3 744.5,344.3" fill="#ff0e0e"/>
<polygon points="753.0,341.3 756.0,344.3 754.1,344.3 754.1,351.9 751.9,351.9 751.9,344.3 750.0,344.3" fill="#ff0e0e"/>
<polygon points="765.0,269.6 768.0,272.6 766.1,272.6 766.1,279.2 763.9,279.2 763.9,272.6 762.0,272.6" fill="#ff0e0e"/>
<polygon points="846.5,237.5 849.5,240.5 847.6,240.5 847.6,247.9 845.4,247.9 845.4,240.5 843.5,240.5" fill="#ff0e0e"/>
<polygon points="852.6,225.8 855.6,228.8 853.8,228.8 853.8,236.9 851.5,236.9 851.5,228.8 849.6,228.8" fill="#ff0e0e"/>
<polygon points="392.5,186.7 395.3,183.1 393.4,183.1 393.4,178.0 391.6,178.0 391.6,183.1 389.7,183.1" fill="#14e214"/>
<polygon points="736.3,203.0 739.1,199.4 737.2,199.4 737.2,194.2 735.4,194.2 735.4,199.4 733.5,199.4" fill="#14e214"/>
<polygon points="934.6,166.0 948.0,166.0 962.6,167.0 981.3,168.4 998.2,170.7 990.7,171.7 981.3,172.6 957.9,173.1 952.2,174.9 966.8,175.4 966.3,176.8 963.5,178.7 968.2,182.4 972.9,183.4 973.4,186.2 983.2,189.0 992.6,190.4 1002.5,191.9 1022.6,194.3 1038.2,195.6 1060.6,197.7 1063.9,198.4 1060.6,199.6 1044.9,201.8 1029.3,204.0 1012.5,206.3 1010.3,207.9 999.1,212.4 990.7,215.9 975.7,220.3 971.5,221.8 985.1,223.5 987.0,224.4 981.3,226.3 972.0,228.1 962.6,231.0 934.6,231.0" fill="#ff8000"/>
<polygon points="1000.0,190.2 1038.2,192.4 1047.2,193.5 1058.3,195.6 1075.0,197.4 1060.6,197.8 1038.2,195.6 1022.6,194.3 1002.5,191.9" fill="#7d7d7d"/>
<polygon points="975.0,167.7 998.2,170.7 981.3,168.5" fill="#7d7d7d"/>
<polygon points="1043.8,207.2 1071.7,208.2 1071.7,210.6 1051.6,212.6 1027.0,213.9 1002.5,215.3 988.0,217.6 1002.5,214.1 1022.6,211.8 1029.3,210.2 1043.8,207.9" fill="#0a6fd6"/>
<polygon points="1058.0,200.9 1070.0,198.9 1075.5,197.5 1075.5,198.6 1068.0,200.5 1059.0,201.9" fill="#0a6fd6"/>
<polygon points="1037.0,204.3 1051.6,202.9 1051.6,204.0 1040.0,205.5" fill="#0a6fd6"/>
<polygon points="1070.0,198.3 1060.6,199.6 1044.9,201.8 1029.3,204.0 1012.5,206.3 1010.3,207.9 999.1,212.4 974.5,220.2 974.5,220.9 1002.5,214.1 1022.6,211.8 1029.3,210.2 1043.8,207.9 1038.2,205.9 1031.5,205.1 1044.9,202.9 1060.6,200.6 1070.0,199.0" fill="#ff1493"/>
<polygon points="934.6,229.0 972.0,228.1 981.3,226.7 985.1,227.7 996.4,230.5 1000.0,232.0 1000.0,240.0 989.8,243.2 992.6,246.0 998.2,247.9 1001.1,249.3 990.7,252.6 981.3,255.4 977.6,260.1 975.7,263.8 970.1,268.5 965.4,271.3 956.0,274.2 951.3,276.5 934.6,280.0" fill="#ff8080"/>
<polygon points="985.1,223.9 988.8,224.9 990.7,227.2 1000.1,229.1 1022.7,231.4 1002.9,233.3 1001.5,234.6 1017.0,238.0 1002.0,239.9 989.8,242.2 971.0,237.1 990.7,233.3 998.2,231.0 983.2,226.3" fill="#f40000"/>
<polygon points="990.0,245.3 997.0,247.2 991.0,247.5" fill="#f40000"/>
<polygon points="934.6,134.2 934.9,134.6 937.7,143.0 941.0,148.7 942.4,155.2 948.5,159.9 949.9,163.7 948.0,166.0 956.0,171.2 957.9,173.1 952.2,174.9 951.3,176.8 962.6,181.5 966.8,183.9 965.4,186.7 971.0,189.0 970.1,191.0 968.4,193.5 973.5,196.8 977.6,201.0 971.8,203.5 956.8,206.0 950.9,211.0 954.1,215.0 955.0,218.8 960.7,220.6 972.0,222.5 973.8,223.9 969.1,227.2 962.6,231.0 960.2,233.8 964.4,238.5 966.3,243.2 969.1,247.4 971.0,252.6 973.4,256.3 972.0,259.1 966.3,262.0 957.9,264.8 956.0,267.6 956.9,271.3 951.3,275.1 950.4,278.0 941.7,283.4 935.9,288.4 934.6,290.0 934.6,290.0" fill="#ffc55c" stroke="#7a5c2e" stroke-opacity="0.6" stroke-width="0.5"/>
<polygon points="956.0,267.6 959.7,264.3 968.2,261.5 965.4,266.2 966.3,269.0 962.6,271.3 956.0,273.7 951.3,276.5 953.2,274.2 956.9,271.3" fill="#ff1493"/>
<polygon points="934.6,134.2 934.9,134.6 936.3,142.1 938.6,148.7 940.0,156.2 941.9,165.6 944.2,172.1 946.1,177.8 948.0,182.5 947.1,187.2 945.2,191.0 948.4,195.1 955.1,198.5 960.9,201.8 955.1,205.1 950.1,210.2 947.5,215.0 947.5,220.6 953.2,225.3 956.5,229.1 955.0,233.8 957.9,237.5 962.6,242.2 961.6,245.0 957.9,247.4 951.3,250.2 943.8,254.4 940.0,262.0 939.1,271.3 938.1,278.0 937.1,283.4 935.4,288.4 934.6,300.0 934.6,300.0" fill="#d4ad68" stroke="#7a5c2e" stroke-opacity="0.6" stroke-width="0.5"/>
<polygon points="934.6,288.0 938.4,288.4 940.1,293.5 942.6,298.5 940.9,303.5 944.2,310.2 946.7,316.0 945.0,320.0 941.7,323.5 935.9,332.5 934.6,338.0" fill="#ff0a8c"/>
<line x1="934.3" y1="18" x2="934.3" y2="55" stroke="#e4e4e4" stroke-width="1"/>
<line x1="934.6" y1="55" x2="934.6" y2="483.5" stroke="#737373" stroke-width="1"/>
<line x1="934.9" y1="107.5" x2="934.9" y2="119.5" stroke="#4a4a4a" stroke-width="1.4"/>
<line x1="934.9" y1="338" x2="934.9" y2="350" stroke="#555" stroke-width="1.3"/>
<line x1="934.9" y1="405" x2="934.9" y2="417" stroke="#d4ad68" stroke-width="1.2"/>
<text x="54.3" y="323.5" font-size="10.67" fill="#ff2a2a" text-anchor="start" font-weight="normal" stroke="#ff2a2a" stroke-width="0.22">半导体（芯片）</text>
<text x="54.3" y="339.1" font-size="10.67" fill="#ff2a2a" text-anchor="start" font-weight="normal" stroke="#ff2a2a" stroke-width="0.22">金融修复</text>
<text x="54.3" y="354.6" font-size="10.67" fill="#ff2a2a" text-anchor="start" font-weight="normal" stroke="#ff2a2a" stroke-width="0.22">低空经济</text>
<text x="95.1" y="184.1" font-size="10.67" fill="#ff2a2a" text-anchor="start" font-weight="normal" stroke="#ff2a2a" stroke-width="0.22">大金融爆涨</text>
<text x="95.1" y="199.4" font-size="10.67" fill="#ff2a2a" text-anchor="start" font-weight="normal" stroke="#ff2a2a" stroke-width="0.22">军工</text>
<text x="95.1" y="215.0" font-size="10.67" fill="#ff2a2a" text-anchor="start" font-weight="normal" stroke="#ff2a2a" stroke-width="0.22">信创</text>
<text x="112.6" y="275.5" font-size="10.67" fill="#ff2a2a" text-anchor="start" font-weight="normal" stroke="#ff2a2a" stroke-width="0.22">机器人</text>
<text x="112.6" y="291.3" font-size="10.67" fill="#ff2a2a" text-anchor="start" font-weight="normal" stroke="#ff2a2a" stroke-width="0.22">华为产业链</text>
<text x="112.6" y="307.1" font-size="10.67" fill="#ff2a2a" text-anchor="start" font-weight="normal" stroke="#ff2a2a" stroke-width="0.22">大金融尾盘爆发</text>
<text x="135.6" y="126.1" font-size="10.67" fill="#ff2a2a" text-anchor="start" font-weight="normal" stroke="#ff2a2a" stroke-width="0.22">金融</text>
<text x="135.6" y="141.5" font-size="10.67" fill="#ff2a2a" text-anchor="start" font-weight="normal" stroke="#ff2a2a" stroke-width="0.22">地产</text>
<text x="135.6" y="157.1" font-size="10.67" fill="#ff2a2a" text-anchor="start" font-weight="normal" stroke="#ff2a2a" stroke-width="0.22">消费</text>
<text x="240.6" y="158.5" font-size="10.67" fill="#ff2a2a" text-anchor="start" font-weight="normal" stroke="#ff2a2a" stroke-width="0.22">机器人</text>
<text x="240.6" y="174.1" font-size="10.67" fill="#ff2a2a" text-anchor="start" font-weight="normal" stroke="#ff2a2a" stroke-width="0.22">大消费</text>
<text x="240.6" y="189.6" font-size="10.67" fill="#ff2a2a" text-anchor="start" font-weight="normal" stroke="#ff2a2a" stroke-width="0.22">大金融（证券）</text>
<text x="234.3" y="297.6" font-size="10.67" fill="#ff2a2a" text-anchor="start" font-weight="normal" stroke="#ff2a2a" stroke-width="0.22">大消费</text>
<text x="234.3" y="313.0" font-size="10.67" fill="#ff2a2a" text-anchor="start" font-weight="normal" stroke="#ff2a2a" stroke-width="0.22">谷子经济</text>
<text x="234.3" y="328.6" font-size="10.67" fill="#ff2a2a" text-anchor="start" font-weight="normal" stroke="#ff2a2a" stroke-width="0.22">卫星互联网</text>
<text x="304.6" y="122.3" font-size="10.67" fill="#ff2a2a" text-anchor="start" font-weight="normal" stroke="#ff2a2a" stroke-width="0.22">大消费</text>
<text x="304.6" y="138.0" font-size="10.67" fill="#ff2a2a" text-anchor="start" font-weight="normal" stroke="#ff2a2a" stroke-width="0.22">大金融</text>
<text x="304.6" y="153.8" font-size="10.67" fill="#ff2a2a" text-anchor="start" font-weight="normal" stroke="#ff2a2a" stroke-width="0.22">房地产</text>
<text x="327.3" y="148.5" font-size="10.67" fill="#ff2a2a" text-anchor="start" font-weight="normal" stroke="#ff2a2a" stroke-width="0.22">算力产业</text>
<text x="327.3" y="163.5" font-size="10.67" fill="#ff2a2a" text-anchor="start" font-weight="normal" stroke="#ff2a2a" stroke-width="0.22">算力租赁</text>
<text x="327.3" y="178.8" font-size="10.67" fill="#ff2a2a" text-anchor="start" font-weight="normal" stroke="#ff2a2a" stroke-width="0.22">数据中心</text>
<text x="310.6" y="223.3" font-size="10.67" fill="#ff2a2a" text-anchor="start" font-weight="normal" stroke="#ff2a2a" stroke-width="0.22">首发经济</text>
<text x="310.6" y="238.8" font-size="10.67" fill="#ff2a2a" text-anchor="start" font-weight="normal" stroke="#ff2a2a" stroke-width="0.22">冰雪产业</text>
<text x="310.6" y="254.1" font-size="10.67" fill="#ff2a2a" text-anchor="start" font-weight="normal" stroke="#ff2a2a" stroke-width="0.22">大消费</text>
<text x="345.6" y="231.3" font-size="10.67" fill="#ff2a2a" text-anchor="start" font-weight="normal" stroke="#ff2a2a" stroke-width="0.22">银行</text>
<text x="345.6" y="248.8" font-size="10.67" fill="#ff2a2a" text-anchor="start" font-weight="normal" stroke="#ff2a2a" stroke-width="0.22">中字头</text>
<text x="386.8" y="124.5" font-size="10.67" fill="#ff2a2a" text-anchor="start" font-weight="normal" stroke="#ff2a2a" stroke-width="0.22">大金融</text>
<text x="386.8" y="140.1" font-size="10.67" fill="#ff2a2a" text-anchor="start" font-weight="normal" stroke="#ff2a2a" stroke-width="0.22">券商</text>
<text x="386.8" y="155.8" font-size="10.67" fill="#ff2a2a" text-anchor="start" font-weight="normal" stroke="#ff2a2a" stroke-width="0.22">保险</text>
<text x="415.1" y="319.6" font-size="10.67" fill="#ff2a2a" text-anchor="start" font-weight="normal" stroke="#ff2a2a" stroke-width="0.22">小红书爆发</text>
<text x="415.1" y="335.5" font-size="10.67" fill="#ff2a2a" text-anchor="start" font-weight="normal" stroke="#ff2a2a" stroke-width="0.22">机器人反复走强</text>
<text x="455.6" y="295.5" font-size="10.67" fill="#ff2a2a" text-anchor="start" font-weight="normal" stroke="#ff2a2a" stroke-width="0.22">机器人</text>
<text x="455.6" y="311.3" font-size="10.67" fill="#ff2a2a" text-anchor="start" font-weight="normal" stroke="#ff2a2a" stroke-width="0.22">科技</text>
<text x="485.1" y="287.5" font-size="10.67" fill="#ff2a2a" text-anchor="start" font-weight="normal" stroke="#ff2a2a" stroke-width="0.22">DeepSeek</text>
<text x="485.1" y="303.8" font-size="10.67" fill="#ff2a2a" text-anchor="start" font-weight="normal" stroke="#ff2a2a" stroke-width="0.22">无人驾驶</text>
<text x="485.1" y="319.6" font-size="10.67" fill="#ff2a2a" text-anchor="start" font-weight="normal" stroke="#ff2a2a" stroke-width="0.22">人形机器人</text>
<text x="496.8" y="200.5" font-size="10.67" fill="#ff2a2a" text-anchor="start" font-weight="normal" stroke="#ff2a2a" stroke-width="0.22">云计算</text>
<text x="496.8" y="215.8" font-size="10.67" fill="#ff2a2a" text-anchor="start" font-weight="normal" stroke="#ff2a2a" stroke-width="0.22">光伏</text>
<text x="496.8" y="231.3" font-size="10.67" fill="#ff2a2a" text-anchor="start" font-weight="normal" stroke="#ff2a2a" stroke-width="0.22">无人驾驶</text>
<text x="543.3" y="247.1" font-size="10.67" fill="#ff2a2a" text-anchor="start" font-weight="normal" stroke="#ff2a2a" stroke-width="0.22">人形机器人-减速器</text>
<text x="543.3" y="262.3" font-size="10.67" fill="#ff2a2a" text-anchor="start" font-weight="normal" stroke="#ff2a2a" stroke-width="0.22">消费电子</text>
<text x="606.8" y="260.1" font-size="10.67" fill="#ff2a2a" text-anchor="start" font-weight="normal" stroke="#ff2a2a" stroke-width="0.22">固态电池</text>
<text x="606.8" y="275.5" font-size="10.67" fill="#ff2a2a" text-anchor="start" font-weight="normal" stroke="#ff2a2a" stroke-width="0.22">军工</text>
<text x="606.8" y="291.3" font-size="10.67" fill="#ff2a2a" text-anchor="start" font-weight="normal" stroke="#ff2a2a" stroke-width="0.22">人形机器人</text>
<text x="606.8" y="306.8" font-size="10.67" fill="#ff2a2a" text-anchor="start" font-weight="normal" stroke="#ff2a2a" stroke-width="0.22">AI Agent</text>
<text x="606.8" y="322.1" font-size="10.67" fill="#ff2a2a" text-anchor="start" font-weight="normal" stroke="#ff2a2a" stroke-width="0.22">有色金属</text>
<text x="647.6" y="223.0" font-size="10.67" fill="#ff2a2a" text-anchor="start" font-weight="normal" stroke="#ff2a2a" stroke-width="0.22">大金融</text>
<text x="647.6" y="239.1" font-size="10.67" fill="#ff2a2a" text-anchor="start" font-weight="normal" stroke="#ff2a2a" stroke-width="0.22">大消费</text>
<text x="647.6" y="253.8" font-size="10.67" fill="#ff2a2a" text-anchor="start" font-weight="normal" stroke="#ff2a2a" stroke-width="0.22">三胎概念</text>
<text x="679.3" y="223.0" font-size="10.67" fill="#ff2a2a" text-anchor="start" font-weight="normal" stroke="#ff2a2a" stroke-width="0.22">海洋经济</text>
<text x="679.3" y="239.1" font-size="10.67" fill="#ff2a2a" text-anchor="start" font-weight="normal" stroke="#ff2a2a" stroke-width="0.22">化工涨价</text>
<text x="675.3" y="253.8" font-size="10.67" fill="#ff2a2a" text-anchor="start" font-weight="normal" stroke="#ff2a2a" stroke-width="0.22">环氧丙烷</text>
<text x="706.3" y="235.5" font-size="10.67" fill="#ff2a2a" text-anchor="start" font-weight="normal" stroke="#ff2a2a" stroke-width="0.22">黄金</text>
<text x="706.0" y="251.3" font-size="10.67" fill="#ff2a2a" text-anchor="start" font-weight="normal" stroke="#ff2a2a" stroke-width="0.22">可控核聚变</text>
<text x="706.0" y="266.8" font-size="10.67" fill="#ff2a2a" text-anchor="start" font-weight="normal" stroke="#ff2a2a" stroke-width="0.22">医药</text>
<text x="723.5" y="110.0" font-size="10.67" fill="#ff2a2a" text-anchor="start" font-weight="normal" stroke="#ff2a2a" stroke-width="0.22">对等关税</text>
<text x="723.5" y="125.5" font-size="10.67" fill="#ff2a2a" text-anchor="start" font-weight="normal" stroke="#ff2a2a" stroke-width="0.22">稀土</text>
<text x="723.5" y="141.0" font-size="10.67" fill="#ff2a2a" text-anchor="start" font-weight="normal" stroke="#ff2a2a" stroke-width="0.22">中韩自贸区</text>
<text x="723.5" y="156.6" font-size="10.67" fill="#ff2a2a" text-anchor="start" font-weight="normal" stroke="#ff2a2a" stroke-width="0.22">消费</text>
<text x="723.5" y="172.1" font-size="10.67" fill="#ff2a2a" text-anchor="start" font-weight="normal" stroke="#ff2a2a" stroke-width="0.22">农业</text>
<text x="723.5" y="188.0" font-size="10.67" fill="#ff2a2a" text-anchor="start" font-weight="normal" stroke="#ff2a2a" stroke-width="0.22">跨境支付</text>
<text x="752.3" y="188.0" font-size="10.67" fill="#ff2a2a" text-anchor="start" font-weight="normal" stroke="#ff2a2a" stroke-width="0.22">国产芯片</text>
<text x="752.3" y="203.8" font-size="10.67" fill="#ff2a2a" text-anchor="start" font-weight="normal" stroke="#ff2a2a" stroke-width="0.22">北斗导航</text>
<text x="752.3" y="219.6" font-size="10.67" fill="#ff2a2a" text-anchor="start" font-weight="normal" stroke="#ff2a2a" stroke-width="0.22">创新药</text>
<text x="718.0" y="341.3" font-size="10.67" fill="#ff2a2a" text-anchor="start" font-weight="normal" stroke="#ff2a2a" stroke-width="0.22">农业</text>
<text x="718.0" y="357.1" font-size="10.67" fill="#ff2a2a" text-anchor="start" font-weight="normal" stroke="#ff2a2a" stroke-width="0.22">大消费</text>
<text x="718.0" y="372.5" font-size="10.67" fill="#ff2a2a" text-anchor="start" font-weight="normal" stroke="#ff2a2a" stroke-width="0.22">国企改革</text>
<text x="718.0" y="386.8" font-size="10.67" fill="#ff2a2a" text-anchor="start" font-weight="normal" stroke="#ff2a2a" stroke-width="0.22">银行</text>
<text x="711.8" y="390.8" font-size="10.67" fill="#ff2a2a" text-anchor="start" font-weight="normal" stroke="#ff2a2a" stroke-width="0.22">军工(国产化率高+地缘)</text>
<text x="711.8" y="406.3" font-size="10.67" fill="#ff2a2a" text-anchor="start" font-weight="normal" stroke="#ff2a2a" stroke-width="0.22">中字头（央国企回购）</text>
<text x="711.8" y="421.8" font-size="10.67" fill="#ff2a2a" text-anchor="start" font-weight="normal" stroke="#ff2a2a" stroke-width="0.22">免税（即买即退）</text>
<text x="711.8" y="437.1" font-size="10.67" fill="#ff2a2a" text-anchor="start" font-weight="normal" stroke="#ff2a2a" stroke-width="0.22">港口（周边互联互通）</text>
<text x="833.8" y="190.6" font-size="10.67" fill="#ff2a2a" text-anchor="start" font-weight="normal" stroke="#ff2a2a" stroke-width="0.22">军工</text>
<text x="833.8" y="206.4" font-size="10.67" fill="#ff2a2a" text-anchor="start" font-weight="normal" stroke="#ff2a2a" stroke-width="0.22">地产</text>
<text x="833.8" y="222.1" font-size="10.67" fill="#ff2a2a" text-anchor="start" font-weight="normal" stroke="#ff2a2a" stroke-width="0.22">化工</text>
<text x="822.3" y="263.5" font-size="10.67" fill="#ff2a2a" text-anchor="start" font-weight="normal" stroke="#ff2a2a" stroke-width="0.22">可控核聚变</text>
<text x="822.3" y="278.0" font-size="10.67" fill="#ff2a2a" text-anchor="start" font-weight="normal" stroke="#ff2a2a" stroke-width="0.22">稀土永磁</text>
<text x="822.3" y="293.8" font-size="10.67" fill="#ff2a2a" text-anchor="start" font-weight="normal" stroke="#ff2a2a" stroke-width="0.22">华为产业链</text>
<text x="50.0" y="58.3" font-size="10" fill="#e8772e" text-anchor="start" font-weight="normal" letter-spacing="-0.2" >3674.40</text>
<path d="M48.5 54.7 H39.8 M43 51.8 L39.8 54.7 L43 57.6" fill="none" stroke="#e8772e" stroke-width="1"/>
<text x="-1.5" y="519.4" font-size="10" fill="#e8772e" text-anchor="start" font-weight="normal" letter-spacing="-0.2" >2689.70</text>
<text x="22.5" y="379.9" font-size="10" fill="#5a5a5a" text-anchor="start" font-weight="normal" letter-spacing="-0.17" >3000.95-3017.45</text>
<text x="755.8" y="293.1" font-size="10" fill="#5a5a5a" text-anchor="start" font-weight="normal" letter-spacing="-0.17" >3186.81-3201.59</text>
<text x="814.6" y="233.4" font-size="10" fill="#5a5a5a" text-anchor="start" font-weight="normal" letter-spacing="-0.3" >3316.45-3324.81</text>
<text x="929.2" y="516.4" font-size="10.4" fill="#8a8a8a" text-anchor="end" font-weight="normal" letter-spacing="-0.46" >2700.00</text>
<text x="929.2" y="469.6" font-size="10.4" fill="#8a8a8a" text-anchor="end" font-weight="normal" letter-spacing="-0.46" >2800.00</text>
<text x="929.2" y="422.8" font-size="10.4" fill="#8a8a8a" text-anchor="end" font-weight="normal" letter-spacing="-0.46" >2900.00</text>
<text x="929.2" y="375.9" font-size="10.4" fill="#8a8a8a" text-anchor="end" font-weight="normal" letter-spacing="-0.46" >3000.00</text>
<text x="929.2" y="329.1" font-size="10.4" fill="#8a8a8a" text-anchor="end" font-weight="normal" letter-spacing="-0.46" >3100.00</text>
<text x="929.2" y="282.3" font-size="10.4" fill="#8a8a8a" text-anchor="end" font-weight="normal" letter-spacing="-0.46" >3200.00</text>
<text x="929.2" y="235.4" font-size="10.4" fill="#8a8a8a" text-anchor="end" font-weight="normal" letter-spacing="-0.46" >3300.00</text>
<text x="929.2" y="188.6" font-size="10.4" fill="#8a8a8a" text-anchor="end" font-weight="normal" letter-spacing="-0.46" >3400.00</text>
<text x="929.2" y="141.8" font-size="10.4" fill="#8a8a8a" text-anchor="end" font-weight="normal" letter-spacing="-0.46" >3500.00</text>
<text x="929.2" y="94.9" font-size="10.4" fill="#8a8a8a" text-anchor="end" font-weight="normal" letter-spacing="-0.46" >3600.00</text>
<text x="929.4" y="552.2" font-size="10.4" fill="#8a8a8a" text-anchor="end" font-weight="normal" letter-spacing="-0.46" >13.10</text>
<text x="929.4" y="580.4" font-size="10.4" fill="#8a8a8a" text-anchor="end" font-weight="normal" letter-spacing="-0.46" >9.66</text>
<text x="929.4" y="607.0" font-size="10.4" fill="#8a8a8a" text-anchor="end" font-weight="normal" letter-spacing="-0.46" >6.47</text>
<text x="929.4" y="633.4" font-size="10.4" fill="#8a8a8a" text-anchor="end" font-weight="normal" letter-spacing="-0.46" >3.28</text>
<text x="929.4" y="654.9" font-size="10.4" fill="#8a8a8a" text-anchor="end" font-weight="normal" letter-spacing="-0.46" >0.00</text>
<line x1="37.1" y1="655.5" x2="37.1" y2="658" stroke="#bbb"/>
<text x="40.3" y="670.0" font-size="10" fill="#666" text-anchor="start" font-weight="normal" letter-spacing="-0.5" >10</text>
<line x1="141.9" y1="655.5" x2="141.9" y2="658" stroke="#bbb"/>
<text x="145.1" y="670.0" font-size="10" fill="#666" text-anchor="start" font-weight="normal" letter-spacing="-0.5" >11</text>
<line x1="264.1" y1="655.5" x2="264.1" y2="658" stroke="#bbb"/>
<text x="267.3" y="670.0" font-size="10" fill="#666" text-anchor="start" font-weight="normal" letter-spacing="-0.5" >12</text>
<line x1="496.9" y1="655.5" x2="496.9" y2="658" stroke="#bbb"/>
<text x="500.1" y="670.0" font-size="10" fill="#666" text-anchor="start" font-weight="normal" letter-spacing="-0.5" >02</text>
<line x1="601.7" y1="655.5" x2="601.7" y2="658" stroke="#bbb"/>
<text x="604.9" y="670.0" font-size="10" fill="#666" text-anchor="start" font-weight="normal" letter-spacing="-0.5" >03</text>
<line x1="724.0" y1="655.5" x2="724.0" y2="658" stroke="#bbb"/>
<text x="727.2" y="670.0" font-size="10" fill="#666" text-anchor="start" font-weight="normal" letter-spacing="-0.5" >04</text>
<line x1="846.2" y1="655.5" x2="846.2" y2="658" stroke="#bbb"/>
<text x="849.4" y="670.0" font-size="10" fill="#666" text-anchor="start" font-weight="normal" letter-spacing="-0.5" >05</text>
<line x1="392.2" y1="655.5" x2="392.2" y2="658" stroke="#bbb"/>
<text x="392.8" y="670.0" font-size="10" fill="#333" text-anchor="start" font-weight="bold" >2025</text>
<path d="M1.2 33.7 V22.7 M-1.4000000000000001 26.099999999999998 L1.2 22.7 L3.8 26.099999999999998" fill="none" stroke="#1e1e8c" stroke-width="1"/>
<text x="8.7" y="31.5" font-size="10.4" fill="#ff22ff" text-anchor="start" font-weight="normal" letter-spacing="-0.37" >MA10:3324.60</text>
<path d="M78.7 33.7 V22.7 M76.10000000000001 26.099999999999998 L78.7 22.7 L81.3 26.099999999999998" fill="none" stroke="#ff22ff" stroke-width="1"/>
<text x="86.7" y="31.5" font-size="10.4" fill="#888" text-anchor="start" font-weight="normal" letter-spacing="-0.37" >MA20:3301.63</text>
<path d="M155.8 33.7 V22.7 M153.20000000000002 26.099999999999998 L155.8 22.7 L158.4 26.099999999999998" fill="none" stroke="#888" stroke-width="1"/>
<text x="164.2" y="31.5" font-size="10.4" fill="#2f8f2f" text-anchor="start" font-weight="normal" letter-spacing="-0.37" >MA60:3330.56</text>
<path d="M233.3 33.7 V22.7 M230.70000000000002 26.099999999999998 L233.3 22.7 L235.9 26.099999999999998" fill="none" stroke="#2f8f2f" stroke-width="1"/>
<text x="241.3" y="31.5" font-size="10.4" fill="#f5a623" text-anchor="start" font-weight="normal" letter-spacing="-0.37" >MA250:3169.44</text>
<path d="M316.7 33.7 V22.7 M314.09999999999997 26.099999999999998 L316.7 22.7 L319.3 26.099999999999998" fill="none" stroke="#f5a623" stroke-width="1"/>
<rect x="833" y="19" width="48" height="17" fill="#ffffff"/>
<text x="835.3" y="31.0" font-size="9.4" fill="#444" text-anchor="start" font-weight="normal" >设置均线</text>
<polygon points="876,26.3 880.6,26.3 878.3,29" fill="#444"/>
<text x="0.0" y="540.3" font-size="9.4" fill="#ff22ff" text-anchor="start" font-weight="normal" >亿</text>
<path d="M17 532.25 V541.75 M14.4 538.35 L17 541.75 L19.6 538.35" fill="none" stroke="#ff22ff" stroke-width="1"/>
<text x="24.8" y="540.4" font-size="9.8" fill="#808080" text-anchor="start" font-weight="normal" letter-spacing="-0.15" >MAVOL2:4.304亿</text>
<path d="M105.8 541.75 V532.25 M103.2 535.65 L105.8 532.25 L108.39999999999999 535.65" fill="none" stroke="#808080" stroke-width="1"/>
<text x="769.0" y="540.7" font-size="9.7" fill="#555" text-anchor="start" font-weight="normal" >改参数</text>
<text x="804.6" y="540.7" font-size="9.7" fill="#555" text-anchor="start" font-weight="normal" >加指标</text>
<text x="840.1" y="540.7" font-size="9.7" fill="#555" text-anchor="start" font-weight="normal" >换指标</text>
<rect x="876.2" y="531.7" width="10.5" height="10.8" fill="#fff" stroke="#bdbdbd" stroke-width="0.8"/>
<path d="M878.6 534.3 L884.3 540 M884.3 534.3 L878.6 540" stroke="#666" stroke-width="0.8"/>
<rect x="0" y="0" width="171" height="18" fill="#f4f4f4"/>
<rect x="0.6" y="0.6" width="36.3" height="16.6" fill="#fff" stroke="#e8743b" stroke-width="1.2"/>
<text x="18.8" y="12.1" font-size="9.7" fill="#e8743b" text-anchor="middle" font-weight="normal" >日线</text>
<rect x="38" y="0" width="35.400000000000006" height="17.4" fill="#ececec"/>
<text x="56.1" y="12.1" font-size="9.7" fill="#8a8a8a" text-anchor="middle" font-weight="normal" >周线</text>
<rect x="74.5" y="0" width="35.2" height="17.4" fill="#ececec"/>
<text x="92.5" y="12.1" font-size="9.7" fill="#8a8a8a" text-anchor="middle" font-weight="normal" >月线</text>
<rect x="111" y="0" width="58.2" height="17.4" fill="#ececec"/>
<text x="134.4" y="12.1" font-size="9.7" fill="#8a8a8a" text-anchor="middle" font-weight="normal" >更多周期</text>
<polygon points="155.50000000000003,7.6 159.9,7.6 157.70000000000002,10.2" fill="#666"/>
<circle cx="165.8" cy="6.6" r="2" fill="#ff3030"/>
<rect x="764" y="0" width="314" height="18" fill="#f6f6f6"/>
<rect x="765" y="0" width="16.599999999999977" height="17.4" fill="#ececec"/>
<text x="773.7" y="12.1" font-size="9.7" fill="#8a8a8a" text-anchor="middle" font-weight="normal" ></text>
<rect x="783" y="0" width="14.599999999999977" height="17.4" fill="#ececec"/>
<text x="790.7" y="12.1" font-size="9.7" fill="#8a8a8a" text-anchor="middle" font-weight="normal" ></text>
<path d="M769.5 8.7 H778 M773.75 4.5 V13" stroke="#8a8a8a" stroke-width="1" fill="none"/>
<path d="M786.5 8.7 H795" stroke="#8a8a8a" stroke-width="1" fill="none"/>
<rect x="799.6" y="0.6" width="36.8" height="16.6" fill="#fff" stroke="#e8743b" stroke-width="1.2"/>
<text x="814.5" y="12.1" font-size="9.7" fill="#e8743b" text-anchor="middle" font-weight="normal" >复权</text>
<polygon points="826.1999999999999,7.6 830.6,7.6 828.4,10.2" fill="#e8743b"/>
<rect x="838" y="0" width="34.59999999999998" height="17.4" fill="#ececec"/>
<text x="852.2" y="12.1" font-size="9.7" fill="#8a8a8a" text-anchor="middle" font-weight="normal" >叠加</text>
<polygon points="863.9,7.6 868.3000000000001,7.6 866.1,10.2" fill="#666"/>
<rect x="874.6" y="0.6" width="36.09999999999995" height="16.6" fill="#fff" stroke="#e8743b" stroke-width="1.2"/>
<text x="892.6" y="12.1" font-size="9.7" fill="#e8743b" text-anchor="middle" font-weight="normal" >筹码</text>
<rect x="912" y="0" width="35.59999999999998" height="17.4" fill="#ececec"/>
<text x="930.2" y="12.1" font-size="9.7" fill="#8a8a8a" text-anchor="middle" font-weight="normal" >画线</text>
<rect x="949" y="0" width="35.59999999999998" height="17.4" fill="#ececec"/>
<text x="963.7" y="12.1" font-size="9.7" fill="#8a8a8a" text-anchor="middle" font-weight="normal" >显示</text>
<polygon points="975.4,7.6 979.8000000000001,7.6 977.6,10.2" fill="#666"/>
<rect x="986" y="0" width="35.2" height="17.4" fill="#ececec"/>
<text x="1004.0" y="12.1" font-size="9.7" fill="#8a8a8a" text-anchor="middle" font-weight="normal" >经典</text>
<rect x="1022.8" y="0" width="35.2" height="17.4" fill="#ececec"/>
<text x="1035.5" y="12.1" font-size="9.7" fill="#8a8a8a" text-anchor="middle" font-weight="normal" >隐藏</text>
<rect x="1059.6" y="0" width="16.10000000000009" height="17.4" fill="#ececec"/>
<text x="1068.0" y="12.1" font-size="9.7" fill="#8a8a8a" text-anchor="middle" font-weight="normal" ></text>
<polygon points="1047.6,5.6 1051,8.7 1047.6,11.8" fill="#777"/><polygon points="1051.6,5.6 1055,8.7 1051.6,11.8" fill="#777"/>
<path d="M1063 7 V4.2 H1065.8 M1063.2 4.4 L1066.3 7.5 M1070 4.2 H1072.8 V7 M1072.6 4.4 L1069.5 7.5 M1063 10.6 V13.4 H1065.8 M1063.2 13.2 L1066.3 10.1 M1072.8 10.6 V13.4 H1070 M1072.6 13.2 L1069.5 10.1" stroke="#777" stroke-width="0.9" fill="none"/>
<line x1="0" y1="0.4" x2="1080" y2="0.4" stroke="#dedede" stroke-width="0.8"/>
<rect x="1020" y="21.5" width="12" height="12.5" fill="#fff"/>
<rect x="1034" y="21.5" width="12" height="12.5" fill="#fff"/>
<rect x="1048" y="21.5" width="12" height="12.5" fill="#fff"/>
<rect x="1062.5" y="21.5" width="12" height="12.5" fill="#fff"/>
<line x1="1021.2" y1="23.8" x2="1025" y2="23.8" stroke="#8f8f8f" stroke-width="0.9"/>
<line x1="1021.2" y1="25.5" x2="1026.6" y2="25.5" stroke="#8f8f8f" stroke-width="0.9"/>
<line x1="1021.2" y1="27.2" x2="1029.8" y2="27.2" stroke="#8f8f8f" stroke-width="0.9"/>
<line x1="1021.2" y1="28.9" x2="1026.6" y2="28.9" stroke="#8f8f8f" stroke-width="0.9"/>
<line x1="1021.2" y1="30.6" x2="1024.6" y2="30.6" stroke="#8f8f8f" stroke-width="0.9"/>
<line x1="1021.2" y1="31.9" x2="1022.5" y2="31.9" stroke="#8f8f8f" stroke-width="0.9"/>
<polygon points="1035,22.5 1043.8,26.9 1039.6,28.9 1035.4,33.9" fill="#ff1550"/><polygon points="1035,23.6 1038.6,26.2 1036.8,27.8 1037.8,28.8 1035.2,31.6" fill="#ffb000"/>
<polygon points="1049,22.8 1057.6,26.9 1053.6,28.8 1049.5,33.7" fill="#777"/><polygon points="1049.4,24.2 1052.6,26.4 1050.8,28 1049.8,31.4" fill="#a8a8a8"/>
<polygon points="1073.8,28.2 1073.3,30.0 1071.8,30.2 1070.7,31.3 1070.5,32.8 1068.7,33.3 1067.8,32.1 1066.4,31.7 1065.0,32.3 1063.6,30.9 1064.2,29.5 1063.8,28.1 1062.6,27.2 1063.1,25.4 1064.6,25.2 1065.7,24.1 1065.9,22.6 1067.7,22.1 1068.6,23.3 1070.0,23.7 1071.4,23.1 1072.8,24.5 1072.2,25.9 1072.6,27.3" fill="none" stroke="#8a8a8a" stroke-width="0.9"/><circle cx="1068.2" cy="27.7" r="2" fill="none" stroke="#8a8a8a" stroke-width="0.9"/>
<rect x="961.7" y="504.9" width="4.2" height="4.2" fill="#f40000"/>
<text x="968.8" y="510.4" font-size="9.5" fill="#555" text-anchor="start" font-weight="normal" letter-spacing="0.12" >5周期前成本</text>
<text x="1071.8" y="510.6" font-size="10" fill="#555" text-anchor="end" font-weight="normal" letter-spacing="-0.25" >94.89%</text>
<rect x="961.7" y="518.9" width="4.2" height="4.2" fill="#ff8080"/>
<text x="968.8" y="524.4" font-size="9.5" fill="#555" text-anchor="start" font-weight="normal" letter-spacing="0.12" >10周期前成本</text>
<text x="1071.8" y="524.6" font-size="10" fill="#555" text-anchor="end" font-weight="normal" letter-spacing="-0.25" >89.99%</text>
<rect x="961.7" y="532.9" width="4.2" height="4.2" fill="#ff1493"/>
<text x="968.8" y="538.4" font-size="9.5" fill="#555" text-anchor="start" font-weight="normal" letter-spacing="0.12" >20周期前成本</text>
<text x="1071.8" y="538.6" font-size="10" fill="#555" text-anchor="end" font-weight="normal" letter-spacing="-0.25" >81.19%</text>
<rect x="961.7" y="546.9" width="4.2" height="4.2" fill="#ff8000"/>
<text x="968.8" y="552.4" font-size="9.5" fill="#555" text-anchor="start" font-weight="normal" letter-spacing="0.12" >30周期前成本</text>
<text x="1071.8" y="552.6" font-size="10" fill="#555" text-anchor="end" font-weight="normal" letter-spacing="-0.25" >71.20%</text>
<rect x="961.7" y="560.9" width="4.2" height="4.2" fill="#ffc55c"/>
<text x="968.8" y="566.4" font-size="9.5" fill="#555" text-anchor="start" font-weight="normal" letter-spacing="0.12" >60周期前成本</text>
<text x="1071.8" y="566.6" font-size="10" fill="#555" text-anchor="end" font-weight="normal" letter-spacing="-0.25" >46.40%</text>
<rect x="961.7" y="574.9" width="4.2" height="4.2" fill="#d4ad68"/>
<text x="968.8" y="580.4" font-size="9.5" fill="#555" text-anchor="start" font-weight="normal" letter-spacing="0.12" >100周期前成本</text>
<text x="1071.8" y="580.6" font-size="10" fill="#555" text-anchor="end" font-weight="normal" letter-spacing="-0.25" >24.37%</text>
<text x="938.0" y="597.2" font-size="9.4" fill="#555" text-anchor="start" font-weight="normal" letter-spacing="0.33" >日期：2025年5月13日</text>
<text x="938.0" y="611.4" font-size="9.4" fill="#555" text-anchor="start" font-weight="normal" >获利比率：</text>
<rect x="983.8" y="604.6" width="50.5" height="7" rx="3.5" fill="#dadada"/><rect x="983.8" y="604.6" width="39.4" height="7" rx="3.5" fill="#878787"/>
<text x="1072.0" y="611.6" font-size="10" fill="#555" text-anchor="end" font-weight="normal" letter-spacing="-0.25" >78.69%</text>
<text x="938.0" y="625.6" font-size="9.4" fill="#555" text-anchor="start" font-weight="normal" letter-spacing="0.1" >平均成本：3316.28</text>
<text x="938.0" y="639.7" font-size="9.4" fill="#555" text-anchor="start" font-weight="normal" letter-spacing="0.2" >3342.27元处获利盘：53.38%</text>
<rect x="937.2" y="644.6" width="53.6" height="12.2" fill="#fff" stroke="#c9c9c9" stroke-width="0.8"/>
<text x="940.3" y="654.2" font-size="9.4" fill="#555" text-anchor="start" font-weight="normal" letter-spacing="0.1" >90%成本</text>
<polygon points="981.3,649.6 986.3,649.6 983.8,652.6" fill="#666"/>
<text x="1071.5" y="654.4" font-size="10" fill="#555" text-anchor="end" font-weight="normal" letter-spacing="-0.2" >3153.97-3427.88</text>
<text x="938.0" y="668.1" font-size="9.4" fill="#555" text-anchor="start" font-weight="normal" letter-spacing="0.15" >集中度：4.2%</text>
<rect x="922" y="659.5" width="11" height="10" fill="#fff"/><path d="M924.5 661.6 L927.3 664.6 L924.5 667.6 M928 661.6 L930.8 664.6 L928 667.6" stroke="#999" stroke-width="0.8" fill="none"/>
</svg>
</body></html>
